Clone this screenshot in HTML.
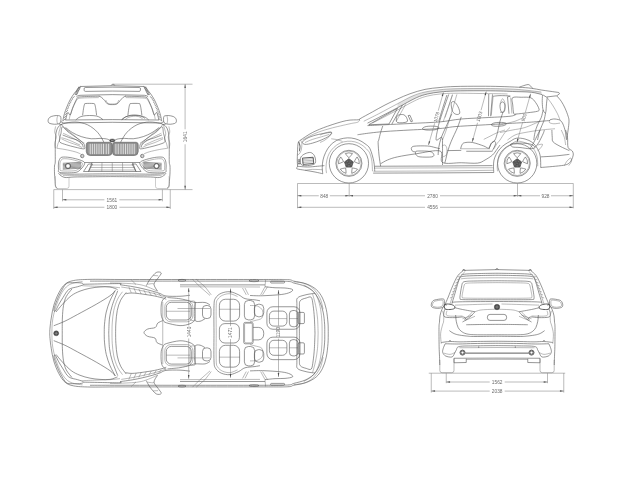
<!DOCTYPE html>
<html><head><meta charset="utf-8"><title>Car dimensions</title>
<style>
html,body{margin:0;padding:0;background:#fff;}
body{width:640px;height:480px;overflow:hidden;font-family:"Liberation Sans",sans-serif;}
svg{display:block;filter:grayscale(1) blur(0.4px)}
.l{fill:none;stroke:#505050;stroke-width:0.6;stroke-linecap:butt;stroke-linejoin:round}
.t{fill:none;stroke:#666;stroke-width:0.45;stroke-linecap:butt;stroke-linejoin:round}
.h{fill:none;stroke:#404040;stroke-width:0.85;stroke-linecap:butt;stroke-linejoin:round}
.d{fill:none;stroke:#777;stroke-width:0.5}
.f{fill:none;stroke:#909090;stroke-width:0.45}
.a{fill:#4a4a4a;stroke:none}
.k{fill:#333;stroke:none}
text{font-family:"Liberation Sans",sans-serif;font-size:4.8px;fill:#6c6c6c;text-anchor:middle}
</style></head><body>
<svg width="640" height="480" viewBox="0 0 640 480">
<rect width="640" height="480" fill="#fff"/>
<g id="front"><path class="l" d="M80.62,86.25 C80.10,86.77 78.64,88.09 77.50,89.38 C76.36,90.67 75.00,92.23 73.75,94.00 C72.50,95.77 71.14,97.85 70.00,100.00 C68.86,102.15 67.82,104.59 66.88,106.88 C65.94,109.17 65.07,111.36 64.38,113.75 C63.69,116.14 63.02,120.00 62.75,121.25"/><path class="l" d="M80.6,86.65 L76.4,95.13"/><path class="t" d="M79.25,86.35 L75.13,94.75"/><path class="l" d="M80.15,88 L77.98,87.25"/><path class="l" d="M79.48,89.35 L77.3,88.6"/><path class="l" d="M78.8,90.7 L76.63,89.95"/><path class="l" d="M78.13,92.05 L75.95,91.3"/><path class="l" d="M77.45,93.4 L75.28,92.65"/><path class="l" d="M76.78,94.75 L74.6,94"/><path class="l" d="M99.5,96.18 C98.00,96.22 93.25,96.31 90.50,96.40 C87.75,96.49 85.00,96.58 83.00,96.70 C81.00,96.83 79.53,96.83 78.50,97.15 C77.47,97.48 77.47,97.68 76.85,98.65 C76.22,99.62 75.47,101.40 74.75,103.00 C74.03,104.60 73.25,106.25 72.50,108.25 C71.75,110.25 71.04,114.29 70.25,115.00 C69.46,115.71 68.52,111.67 67.75,112.50 C66.98,113.33 65.98,118.75 65.62,120.00"/><path class="t" d="M98.75,97.62 C97.29,97.64 93.12,97.67 90.00,97.75 C86.88,97.83 82.04,97.91 80.00,98.12 C77.96,98.33 78.44,98.44 77.75,99.00 C77.06,99.56 76.67,100.08 75.88,101.50 C75.09,102.92 73.94,105.29 73.00,107.50 C72.06,109.71 70.88,112.77 70.25,114.75 C69.62,116.73 69.42,118.61 69.25,119.38"/><path class="l" d="M71.94,98.62 L74.64,96.38"/><path class="l" d="M70.26,101.38 L72.75,99.12"/><path class="l" d="M69.01,104.12 L71.38,101.88"/><path class="l" d="M67.76,106.88 L70.09,104.62"/><path class="l" d="M66.66,109.62 L69.03,107.38"/><path class="l" d="M65.66,112.38 L67.98,110.12"/><path class="l" d="M64.7,115.12 L67.08,112.88"/><path class="l" d="M64.1,117.88 L66.3,115.62"/><path class="l" d="M63.5,120.62 L65.52,118.38"/><path class="l" d="M82.62,115.25 C82.77,114.17 83.19,110.56 83.50,108.75 C83.81,106.94 84.12,105.25 84.50,104.38 C84.88,103.50 84.29,103.65 85.75,103.50 C87.21,103.35 91.75,103.35 93.25,103.50 C94.75,103.65 94.33,103.50 94.75,104.38 C95.17,105.25 95.44,106.94 95.75,108.75 C96.06,110.56 96.48,114.17 96.62,115.25"/><path class="l" d="M75.75,120 C76.27,119.58 77.63,118.17 78.88,117.50 C80.13,116.83 81.48,116.33 83.25,116.00 C85.02,115.67 87.31,115.50 89.50,115.50 C91.69,115.50 94.55,115.62 96.38,116.00 C98.21,116.38 99.40,117.12 100.50,117.75 C101.60,118.38 102.58,119.42 103.00,119.75"/><path class="l" d="M48.12,120.25 C48.22,119.56 48.48,118.75 49.00,118.12 C49.52,117.50 50.04,116.94 51.25,116.50 C52.46,116.06 54.79,115.58 56.25,115.50 C57.71,115.42 59.23,115.67 60.00,116.00 C60.77,116.33 60.76,116.52 60.88,117.50 C61.01,118.48 61.11,120.84 60.75,121.88 C60.39,122.92 59.81,123.36 58.75,123.75 C57.69,124.14 55.84,124.29 54.38,124.25 C52.92,124.21 51.00,123.83 50.00,123.50 C49.00,123.17 48.69,122.79 48.38,122.25 C48.07,121.71 48.02,120.94 48.12,120.25 Z"/><path class="t" d="M57.5,116 C57.40,116.67 56.88,118.67 56.88,120.00 C56.88,121.33 57.40,123.33 57.50,124.00"/><path class="l" d="M60.75,121.5 L63.12,123.12"/><path class="l" d="M58.75,124 L62.25,124.75"/><path class="l" d="M62.5,123.88 C61.98,124.19 60.21,125.02 59.38,125.75 C58.55,126.48 58.02,127.21 57.50,128.25 C56.98,129.29 56.56,130.54 56.25,132.00 C55.94,133.46 55.79,134.08 55.62,137.00 C55.45,139.92 55.31,145.33 55.25,149.50 C55.19,153.67 55.38,159.25 55.25,162.00 C55.12,164.75 54.62,164.17 54.50,166.00 C54.38,167.83 54.42,170.67 54.50,173.00 C54.58,175.33 54.83,177.83 55.00,180.00 C55.17,182.17 55.08,184.58 55.50,186.00 C55.92,187.42 57.17,188.08 57.50,188.50"/><path class="t" d="M61.25,124.5 C61.00,125.33 60.17,127.94 59.75,129.50 C59.33,131.06 58.71,132.32 58.75,133.88 C58.79,135.44 60.11,137.32 60.00,138.88 C59.89,140.44 58.64,141.69 58.12,143.25 C57.60,144.81 57.09,147.42 56.88,148.25"/><path class="t" d="M55.62,126.38 C55.47,127.32 54.64,130.23 54.75,132.00 C54.86,133.77 56.25,135.12 56.25,137.00 C56.25,138.88 54.92,141.38 54.75,143.25 C54.58,145.12 55.17,147.42 55.25,148.25"/><path class="l" d="M62.5,123.88 C63.54,123.65 66.67,122.81 68.75,122.50 C70.83,122.19 72.92,121.96 75.00,122.00 C77.08,122.04 79.17,122.29 81.25,122.75 C83.33,123.21 85.52,123.83 87.50,124.75 C89.48,125.67 91.45,127.00 93.12,128.25 C94.79,129.50 96.25,130.90 97.50,132.25 C98.75,133.60 99.75,135.07 100.62,136.38 C101.50,137.69 102.12,138.97 102.75,140.12 C103.38,141.27 104.11,142.73 104.38,143.25"/><path class="l" d="M62.5,126.75 C63.79,126.61 66.25,130.44 68.75,132.38 C71.25,134.32 75.04,136.53 77.50,138.38 C79.96,140.23 82.31,142.17 83.50,143.50 C84.69,144.83 84.54,145.48 84.62,146.38 C84.70,147.28 85.60,148.76 84.00,148.88 C82.40,149.00 77.96,147.81 75.00,147.12 C72.04,146.43 68.75,145.56 66.25,144.75 C63.75,143.94 61.11,143.23 60.00,142.25 C58.89,141.27 59.45,140.38 59.62,138.88 C59.79,137.38 60.52,135.27 61.00,133.25 C61.48,131.23 61.21,126.89 62.50,126.75 Z"/><path class="t" d="M63.12,133.25 C64.27,133.79 67.39,135.12 70.00,136.50 C72.61,137.88 76.71,140.12 78.75,141.50 C80.79,142.88 81.67,144.21 82.25,144.75"/><path class="t" d="M61.5,137.62 C62.71,138.02 65.67,138.77 68.75,140.00 C71.83,141.23 78.12,144.17 80.00,145.00"/><path class="t" d="M61.88,124.5 C62.40,125.23 63.86,127.63 65.00,128.88 C66.14,130.13 68.12,131.48 68.75,132.00"/><path class="l" d="M62.62,135 C63.97,135.52 68.35,137.29 70.75,138.12 C73.15,138.95 75.12,139.06 77.00,140.00 C78.88,140.94 80.96,142.50 82.00,143.75 C83.04,145.00 83.04,146.88 83.25,147.50"/><path class="t" d="M61.38,138.75 C62.73,139.38 66.90,141.46 69.50,142.50 C72.10,143.54 74.92,144.17 77.00,145.00 C79.08,145.83 81.17,147.08 82.00,147.50"/><path class="t" d="M64.5,127.5 C65.75,128.54 69.50,131.67 72.00,133.75 C74.50,135.83 77.42,138.44 79.50,140.00 C81.58,141.56 83.67,142.60 84.50,143.12"/><path class="l" d="M65.62,127.62 C66.77,128.45 69.89,131.12 72.50,132.62 C75.11,134.12 78.12,135.60 81.25,136.62 C84.38,137.64 88.12,138.46 91.25,138.75 C94.38,139.04 97.50,138.36 100.00,138.38 C102.50,138.40 104.62,138.59 106.25,138.88 C107.88,139.17 109.17,139.91 109.75,140.12"/><path class="t" d="M56.88,148.25 C58.23,148.46 61.98,148.92 65.00,149.50 C68.02,150.08 72.40,151.02 75.00,151.75 C77.60,152.48 79.68,153.53 80.62,153.88"/><path d="M88.3,142.3 L109.6,142.3 Q112,142.3 112,145 L112,152.2 Q112,155.5 108.6,155.5 L90.2,155.5 Q86.5,155.5 86.3,151.5 L86.3,144.8 Q86.3,142.3 88.3,142.3 Z" fill="#9a9a9a" stroke="#666" stroke-width="0.7"/><path d="M90.25,143.6 L90.25,154.3" stroke="#e4e4e4" stroke-width="0.9" fill="none"/><path d="M92.4,143.6 L92.4,154.3" stroke="#e4e4e4" stroke-width="0.9" fill="none"/><path d="M94.6,143.6 L94.6,154.3" stroke="#e4e4e4" stroke-width="0.9" fill="none"/><path d="M96.8,143.6 L96.8,154.3" stroke="#e4e4e4" stroke-width="0.9" fill="none"/><path d="M99,143.6 L99,154.3" stroke="#e4e4e4" stroke-width="0.9" fill="none"/><path d="M101.25,143.6 L101.25,154.3" stroke="#e4e4e4" stroke-width="0.9" fill="none"/><path d="M103.5,143.6 L103.5,154.3" stroke="#e4e4e4" stroke-width="0.9" fill="none"/><path d="M106.25,143.6 L106.25,154.3" stroke="#e4e4e4" stroke-width="0.9" fill="none"/><path d="M108.6,143.6 L108.6,154.3" stroke="#e4e4e4" stroke-width="0.9" fill="none"/><path d="M88.6,143.2 L109.4,143.2 Q111.1,143.2 111.1,145.2 L111.1,152 Q111.1,154.6 108.4,154.6 L90.4,154.6 Q87.3,154.6 87.2,151.4 L87.2,145 Q87.2,143.2 88.6,143.2 Z" fill="none" stroke="#777" stroke-width="0.5"/><path class="l" d="M59.5,159.5 C60.08,158.53 60.25,157.53 62.00,157.20 C63.75,156.87 67.00,157.03 70.00,157.50 C73.00,157.97 77.58,159.17 80.00,160.00 C82.42,160.83 83.92,161.50 84.50,162.50 C85.08,163.50 84.25,164.75 83.50,166.00 C82.75,167.25 81.42,168.92 80.00,170.00 C78.58,171.08 78.33,172.08 75.00,172.50 C71.67,172.92 62.75,173.08 60.00,172.50 C57.25,171.92 58.75,170.58 58.50,169.00 C58.25,167.42 58.33,164.58 58.50,163.00 C58.67,161.42 58.92,160.47 59.50,159.50 Z"/><path class="t" d="M61,160.5 C61.50,159.80 61.50,159.02 63.00,158.80 C64.50,158.58 67.33,158.75 70.00,159.20 C72.67,159.65 76.92,160.83 79.00,161.50 C81.08,162.17 82.08,162.45 82.50,163.20 C82.92,163.95 82.17,165.03 81.50,166.00 C80.83,166.97 79.75,168.20 78.50,169.00 C77.25,169.80 76.83,170.50 74.00,170.80 C71.17,171.10 63.83,171.18 61.50,170.80 C59.17,170.42 60.25,169.80 60.00,168.50 C59.75,167.20 59.83,164.33 60.00,163.00 C60.17,161.67 60.50,161.20 61.00,160.50 Z"/><circle class="h" cx="68" cy="166" r="2.5"/><circle class="t" cx="68" cy="166" r="1.7"/><path class="l" d="M62.8,163.3 L81.2,162.3"/><path class="l" d="M62.8,164.5 L81.2,163.5"/><path class="l" d="M62.8,165.7 L81.2,164.7"/><path class="l" d="M62.8,166.9 L81.2,165.9"/><path class="l" d="M62.8,168.1 L81.2,167.1"/><path class="l" d="M62.8,169.2 L81.2,168.2"/><circle cx="68" cy="166" r="2.3" fill="#fff" stroke="#555" stroke-width="0.7"/><circle class="l" cx="82.25" cy="156" r="1.75"/><circle class="t" cx="82.25" cy="156" r="1.1"/><path class="l" d="M88.5,164 L83.5,171.5 L88.5,171.5 L92.5,164 Z"/><path class="l" d="M84.5,162.5 L92,162.5 L112.3,162.5"/><path class="l" d="M92,162.5 L88.5,171.5 L112.3,171.5"/><path class="t" d="M91.03,165 L112.3,165"/><path class="t" d="M90.05,167.5 L112.3,167.5"/><path class="t" d="M89.08,170 L112.3,170"/><path class="t" d="M102,162.5 L101.8,171.5"/><path class="l" d="M60,173.8 C61.67,173.87 65.00,174.17 70.00,174.20 C75.00,174.23 82.95,174.07 90.00,174.00 C97.05,173.93 108.58,173.83 112.30,173.80"/><path class="t" d="M63,175.6 C65.83,175.60 71.78,175.65 80.00,175.60 C88.22,175.55 106.92,175.35 112.30,175.30"/><path class="l" d="M58.5,173 C58.75,173.33 58.92,174.25 60.00,175.00 C61.08,175.75 62.67,177.17 65.00,177.50 C67.33,177.83 69.83,177.12 74.00,177.00 C78.17,176.88 83.62,176.87 90.00,176.80 C96.38,176.73 108.58,176.63 112.30,176.60"/><path class="f" d="M55.4,176 L55.4,186.3 Q55.4,188.5 57.6,188.5 L66.8,188.5 Q69,188.5 69,186.3 L69,177.3"/><g transform="translate(224.5,0) scale(-1,1)"><path class="l" d="M80.62,86.25 C80.10,86.77 78.64,88.09 77.50,89.38 C76.36,90.67 75.00,92.23 73.75,94.00 C72.50,95.77 71.14,97.85 70.00,100.00 C68.86,102.15 67.82,104.59 66.88,106.88 C65.94,109.17 65.07,111.36 64.38,113.75 C63.69,116.14 63.02,120.00 62.75,121.25"/><path class="l" d="M80.6,86.65 L76.4,95.13"/><path class="t" d="M79.25,86.35 L75.13,94.75"/><path class="l" d="M80.15,88 L77.98,87.25"/><path class="l" d="M79.48,89.35 L77.3,88.6"/><path class="l" d="M78.8,90.7 L76.63,89.95"/><path class="l" d="M78.13,92.05 L75.95,91.3"/><path class="l" d="M77.45,93.4 L75.28,92.65"/><path class="l" d="M76.78,94.75 L74.6,94"/><path class="l" d="M99.5,96.18 C98.00,96.22 93.25,96.31 90.50,96.40 C87.75,96.49 85.00,96.58 83.00,96.70 C81.00,96.83 79.53,96.83 78.50,97.15 C77.47,97.48 77.47,97.68 76.85,98.65 C76.22,99.62 75.47,101.40 74.75,103.00 C74.03,104.60 73.25,106.25 72.50,108.25 C71.75,110.25 71.04,114.29 70.25,115.00 C69.46,115.71 68.52,111.67 67.75,112.50 C66.98,113.33 65.98,118.75 65.62,120.00"/><path class="t" d="M98.75,97.62 C97.29,97.64 93.12,97.67 90.00,97.75 C86.88,97.83 82.04,97.91 80.00,98.12 C77.96,98.33 78.44,98.44 77.75,99.00 C77.06,99.56 76.67,100.08 75.88,101.50 C75.09,102.92 73.94,105.29 73.00,107.50 C72.06,109.71 70.88,112.77 70.25,114.75 C69.62,116.73 69.42,118.61 69.25,119.38"/><path class="l" d="M71.94,98.62 L74.64,96.38"/><path class="l" d="M70.26,101.38 L72.75,99.12"/><path class="l" d="M69.01,104.12 L71.38,101.88"/><path class="l" d="M67.76,106.88 L70.09,104.62"/><path class="l" d="M66.66,109.62 L69.03,107.38"/><path class="l" d="M65.66,112.38 L67.98,110.12"/><path class="l" d="M64.7,115.12 L67.08,112.88"/><path class="l" d="M64.1,117.88 L66.3,115.62"/><path class="l" d="M63.5,120.62 L65.52,118.38"/><path class="l" d="M82.62,115.25 C82.77,114.17 83.19,110.56 83.50,108.75 C83.81,106.94 84.12,105.25 84.50,104.38 C84.88,103.50 84.29,103.65 85.75,103.50 C87.21,103.35 91.75,103.35 93.25,103.50 C94.75,103.65 94.33,103.50 94.75,104.38 C95.17,105.25 95.44,106.94 95.75,108.75 C96.06,110.56 96.48,114.17 96.62,115.25"/><path class="l" d="M75.75,120 C76.27,119.58 77.63,118.17 78.88,117.50 C80.13,116.83 81.48,116.33 83.25,116.00 C85.02,115.67 87.31,115.50 89.50,115.50 C91.69,115.50 94.55,115.62 96.38,116.00 C98.21,116.38 99.40,117.12 100.50,117.75 C101.60,118.38 102.58,119.42 103.00,119.75"/><path class="l" d="M48.12,120.25 C48.22,119.56 48.48,118.75 49.00,118.12 C49.52,117.50 50.04,116.94 51.25,116.50 C52.46,116.06 54.79,115.58 56.25,115.50 C57.71,115.42 59.23,115.67 60.00,116.00 C60.77,116.33 60.76,116.52 60.88,117.50 C61.01,118.48 61.11,120.84 60.75,121.88 C60.39,122.92 59.81,123.36 58.75,123.75 C57.69,124.14 55.84,124.29 54.38,124.25 C52.92,124.21 51.00,123.83 50.00,123.50 C49.00,123.17 48.69,122.79 48.38,122.25 C48.07,121.71 48.02,120.94 48.12,120.25 Z"/><path class="t" d="M57.5,116 C57.40,116.67 56.88,118.67 56.88,120.00 C56.88,121.33 57.40,123.33 57.50,124.00"/><path class="l" d="M60.75,121.5 L63.12,123.12"/><path class="l" d="M58.75,124 L62.25,124.75"/><path class="l" d="M62.5,123.88 C61.98,124.19 60.21,125.02 59.38,125.75 C58.55,126.48 58.02,127.21 57.50,128.25 C56.98,129.29 56.56,130.54 56.25,132.00 C55.94,133.46 55.79,134.08 55.62,137.00 C55.45,139.92 55.31,145.33 55.25,149.50 C55.19,153.67 55.38,159.25 55.25,162.00 C55.12,164.75 54.62,164.17 54.50,166.00 C54.38,167.83 54.42,170.67 54.50,173.00 C54.58,175.33 54.83,177.83 55.00,180.00 C55.17,182.17 55.08,184.58 55.50,186.00 C55.92,187.42 57.17,188.08 57.50,188.50"/><path class="t" d="M61.25,124.5 C61.00,125.33 60.17,127.94 59.75,129.50 C59.33,131.06 58.71,132.32 58.75,133.88 C58.79,135.44 60.11,137.32 60.00,138.88 C59.89,140.44 58.64,141.69 58.12,143.25 C57.60,144.81 57.09,147.42 56.88,148.25"/><path class="t" d="M55.62,126.38 C55.47,127.32 54.64,130.23 54.75,132.00 C54.86,133.77 56.25,135.12 56.25,137.00 C56.25,138.88 54.92,141.38 54.75,143.25 C54.58,145.12 55.17,147.42 55.25,148.25"/><path class="l" d="M62.5,123.88 C63.54,123.65 66.67,122.81 68.75,122.50 C70.83,122.19 72.92,121.96 75.00,122.00 C77.08,122.04 79.17,122.29 81.25,122.75 C83.33,123.21 85.52,123.83 87.50,124.75 C89.48,125.67 91.45,127.00 93.12,128.25 C94.79,129.50 96.25,130.90 97.50,132.25 C98.75,133.60 99.75,135.07 100.62,136.38 C101.50,137.69 102.12,138.97 102.75,140.12 C103.38,141.27 104.11,142.73 104.38,143.25"/><path class="l" d="M62.5,126.75 C63.79,126.61 66.25,130.44 68.75,132.38 C71.25,134.32 75.04,136.53 77.50,138.38 C79.96,140.23 82.31,142.17 83.50,143.50 C84.69,144.83 84.54,145.48 84.62,146.38 C84.70,147.28 85.60,148.76 84.00,148.88 C82.40,149.00 77.96,147.81 75.00,147.12 C72.04,146.43 68.75,145.56 66.25,144.75 C63.75,143.94 61.11,143.23 60.00,142.25 C58.89,141.27 59.45,140.38 59.62,138.88 C59.79,137.38 60.52,135.27 61.00,133.25 C61.48,131.23 61.21,126.89 62.50,126.75 Z"/><path class="t" d="M63.12,133.25 C64.27,133.79 67.39,135.12 70.00,136.50 C72.61,137.88 76.71,140.12 78.75,141.50 C80.79,142.88 81.67,144.21 82.25,144.75"/><path class="t" d="M61.5,137.62 C62.71,138.02 65.67,138.77 68.75,140.00 C71.83,141.23 78.12,144.17 80.00,145.00"/><path class="t" d="M61.88,124.5 C62.40,125.23 63.86,127.63 65.00,128.88 C66.14,130.13 68.12,131.48 68.75,132.00"/><path class="l" d="M62.62,135 C63.97,135.52 68.35,137.29 70.75,138.12 C73.15,138.95 75.12,139.06 77.00,140.00 C78.88,140.94 80.96,142.50 82.00,143.75 C83.04,145.00 83.04,146.88 83.25,147.50"/><path class="t" d="M61.38,138.75 C62.73,139.38 66.90,141.46 69.50,142.50 C72.10,143.54 74.92,144.17 77.00,145.00 C79.08,145.83 81.17,147.08 82.00,147.50"/><path class="t" d="M64.5,127.5 C65.75,128.54 69.50,131.67 72.00,133.75 C74.50,135.83 77.42,138.44 79.50,140.00 C81.58,141.56 83.67,142.60 84.50,143.12"/><path class="l" d="M65.62,127.62 C66.77,128.45 69.89,131.12 72.50,132.62 C75.11,134.12 78.12,135.60 81.25,136.62 C84.38,137.64 88.12,138.46 91.25,138.75 C94.38,139.04 97.50,138.36 100.00,138.38 C102.50,138.40 104.62,138.59 106.25,138.88 C107.88,139.17 109.17,139.91 109.75,140.12"/><path class="t" d="M56.88,148.25 C58.23,148.46 61.98,148.92 65.00,149.50 C68.02,150.08 72.40,151.02 75.00,151.75 C77.60,152.48 79.68,153.53 80.62,153.88"/><path d="M88.3,142.3 L109.6,142.3 Q112,142.3 112,145 L112,152.2 Q112,155.5 108.6,155.5 L90.2,155.5 Q86.5,155.5 86.3,151.5 L86.3,144.8 Q86.3,142.3 88.3,142.3 Z" fill="#9a9a9a" stroke="#666" stroke-width="0.7"/><path d="M90.25,143.6 L90.25,154.3" stroke="#e4e4e4" stroke-width="0.9" fill="none"/><path d="M92.4,143.6 L92.4,154.3" stroke="#e4e4e4" stroke-width="0.9" fill="none"/><path d="M94.6,143.6 L94.6,154.3" stroke="#e4e4e4" stroke-width="0.9" fill="none"/><path d="M96.8,143.6 L96.8,154.3" stroke="#e4e4e4" stroke-width="0.9" fill="none"/><path d="M99,143.6 L99,154.3" stroke="#e4e4e4" stroke-width="0.9" fill="none"/><path d="M101.25,143.6 L101.25,154.3" stroke="#e4e4e4" stroke-width="0.9" fill="none"/><path d="M103.5,143.6 L103.5,154.3" stroke="#e4e4e4" stroke-width="0.9" fill="none"/><path d="M106.25,143.6 L106.25,154.3" stroke="#e4e4e4" stroke-width="0.9" fill="none"/><path d="M108.6,143.6 L108.6,154.3" stroke="#e4e4e4" stroke-width="0.9" fill="none"/><path d="M88.6,143.2 L109.4,143.2 Q111.1,143.2 111.1,145.2 L111.1,152 Q111.1,154.6 108.4,154.6 L90.4,154.6 Q87.3,154.6 87.2,151.4 L87.2,145 Q87.2,143.2 88.6,143.2 Z" fill="none" stroke="#777" stroke-width="0.5"/><path class="l" d="M59.5,159.5 C60.08,158.53 60.25,157.53 62.00,157.20 C63.75,156.87 67.00,157.03 70.00,157.50 C73.00,157.97 77.58,159.17 80.00,160.00 C82.42,160.83 83.92,161.50 84.50,162.50 C85.08,163.50 84.25,164.75 83.50,166.00 C82.75,167.25 81.42,168.92 80.00,170.00 C78.58,171.08 78.33,172.08 75.00,172.50 C71.67,172.92 62.75,173.08 60.00,172.50 C57.25,171.92 58.75,170.58 58.50,169.00 C58.25,167.42 58.33,164.58 58.50,163.00 C58.67,161.42 58.92,160.47 59.50,159.50 Z"/><path class="t" d="M61,160.5 C61.50,159.80 61.50,159.02 63.00,158.80 C64.50,158.58 67.33,158.75 70.00,159.20 C72.67,159.65 76.92,160.83 79.00,161.50 C81.08,162.17 82.08,162.45 82.50,163.20 C82.92,163.95 82.17,165.03 81.50,166.00 C80.83,166.97 79.75,168.20 78.50,169.00 C77.25,169.80 76.83,170.50 74.00,170.80 C71.17,171.10 63.83,171.18 61.50,170.80 C59.17,170.42 60.25,169.80 60.00,168.50 C59.75,167.20 59.83,164.33 60.00,163.00 C60.17,161.67 60.50,161.20 61.00,160.50 Z"/><circle class="h" cx="68" cy="166" r="2.5"/><circle class="t" cx="68" cy="166" r="1.7"/><path class="l" d="M62.8,163.3 L81.2,162.3"/><path class="l" d="M62.8,164.5 L81.2,163.5"/><path class="l" d="M62.8,165.7 L81.2,164.7"/><path class="l" d="M62.8,166.9 L81.2,165.9"/><path class="l" d="M62.8,168.1 L81.2,167.1"/><path class="l" d="M62.8,169.2 L81.2,168.2"/><circle cx="68" cy="166" r="2.3" fill="#fff" stroke="#555" stroke-width="0.7"/><circle class="l" cx="82.25" cy="156" r="1.75"/><circle class="t" cx="82.25" cy="156" r="1.1"/><path class="l" d="M88.5,164 L83.5,171.5 L88.5,171.5 L92.5,164 Z"/><path class="l" d="M84.5,162.5 L92,162.5 L112.3,162.5"/><path class="l" d="M92,162.5 L88.5,171.5 L112.3,171.5"/><path class="t" d="M91.03,165 L112.3,165"/><path class="t" d="M90.05,167.5 L112.3,167.5"/><path class="t" d="M89.08,170 L112.3,170"/><path class="t" d="M102,162.5 L101.8,171.5"/><path class="l" d="M60,173.8 C61.67,173.87 65.00,174.17 70.00,174.20 C75.00,174.23 82.95,174.07 90.00,174.00 C97.05,173.93 108.58,173.83 112.30,173.80"/><path class="t" d="M63,175.6 C65.83,175.60 71.78,175.65 80.00,175.60 C88.22,175.55 106.92,175.35 112.30,175.30"/><path class="l" d="M58.5,173 C58.75,173.33 58.92,174.25 60.00,175.00 C61.08,175.75 62.67,177.17 65.00,177.50 C67.33,177.83 69.83,177.12 74.00,177.00 C78.17,176.88 83.62,176.87 90.00,176.80 C96.38,176.73 108.58,176.63 112.30,176.60"/><path class="f" d="M55.4,176 L55.4,186.3 Q55.4,188.5 57.6,188.5 L66.8,188.5 Q69,188.5 69,186.3 L69,177.3"/></g><path class="l" d="M80.4,86.5 Q112.25,84.9 144.1,86.5"/><path class="l" d="M85.2,87.5 Q112.25,86.8 139.3,87.5 Q140.6,87.6 140.5,89 L140.4,90.4 Q140.3,91.4 139,91.4 Q112.25,90.7 85.5,91.4 Q84.3,91.4 84.2,90.4 L84.1,89 Q84,87.6 85.2,87.5 Z"/><path class="l" d="M111.2,85.4 L112,84.3 L114,84.3 L114.6,85.4"/><path class="l" d="M76.4,96.8 Q77.5,95.5 80,95.3 Q112.25,93.9 144.5,95.3 Q147,95.5 148.1,96.8"/><path class="l" d="M98.88,96.12 C99.30,96.31 100.40,96.50 101.38,97.25 C102.36,98.00 103.71,99.50 104.75,100.62 C105.79,101.75 106.37,103.33 107.62,104.00 C108.87,104.67 110.69,104.62 112.25,104.62 C113.81,104.62 115.69,104.67 117.00,104.00 C118.31,103.33 119.08,101.75 120.12,100.62 C121.16,99.50 122.31,98.00 123.25,97.25 C124.19,96.50 125.33,96.31 125.75,96.12"/><path class="t" d="M105.75,100 C105.96,100.42 106.48,101.88 107.00,102.50 C107.52,103.12 108.00,103.50 108.88,103.75 C109.75,104.00 111.11,104.00 112.25,104.00 C113.39,104.00 114.86,104.00 115.75,103.75 C116.64,103.50 117.10,103.12 117.62,102.50 C118.14,101.88 118.67,100.42 118.88,100.00"/><path class="l" d="M122,119.75 C122.62,119.27 124.29,117.63 125.75,116.88 C127.21,116.13 129.08,115.56 130.75,115.25 C132.42,114.94 134.08,114.88 135.75,115.00 C137.42,115.12 139.19,115.42 140.75,116.00 C142.31,116.58 144.39,118.08 145.12,118.50"/><path class="t" d="M125.12,119.75 C125.64,119.38 126.89,118.08 128.25,117.50 C129.60,116.92 131.58,116.42 133.25,116.25 C134.92,116.08 136.69,116.08 138.25,116.50 C139.81,116.92 141.89,118.38 142.62,118.75"/><path class="l" d="M65.3,120 Q112.25,119.2 159.2,120"/><path class="l" d="M62.6,123 Q112.25,121.6 161.9,123"/><ellipse cx="112.25" cy="140.45" rx="2.75" ry="1.55" fill="#444" stroke="#555" stroke-width="0.4"/><ellipse cx="112.25" cy="140.45" rx="1.5" ry="0.7" fill="#8a8a8a"/><path class="t" d="M112.25,162.5 L112.25,171.5"/></g>
<g id="side"><circle class="l" cx="348.9" cy="163.35" r="19.65"/><circle class="l" cx="348.9" cy="163.35" r="13.05"/><circle class="t" cx="348.9" cy="163.35" r="12.2"/><polygon points="348.90,158.75 353.27,161.93 351.60,167.07 346.20,167.07 344.53,161.93" fill="#5a5a5a" stroke="#4a4a4a" stroke-width="0.8" stroke-linejoin="round"/><circle class="k" cx="348.9" cy="163.35" r="1.5"/><path class="l" d="M348.90,157.75 Q346.39,155.23 345.33,153.58 Q348.90,152.05 352.47,153.58 Q351.41,155.23 348.90,157.75 Z"/><path class="f" d="M348.9,163.35 L351.016,160.438"/><path class="l" d="M354.23,161.62 Q355.85,158.45 357.09,156.94 Q359.65,159.86 359.29,163.72 Q357.40,163.23 354.23,161.62 Z"/><path class="f" d="M348.9,163.35 L352.324,164.462"/><path class="l" d="M352.19,167.88 Q355.71,168.44 357.53,169.16 Q355.54,172.49 351.76,173.35 Q351.64,171.40 352.19,167.88 Z"/><path class="f" d="M348.9,163.35 L348.9,166.95"/><path class="l" d="M345.61,167.88 Q346.16,171.40 346.04,173.35 Q342.26,172.49 340.27,169.16 Q342.09,168.44 345.61,167.88 Z"/><path class="f" d="M348.9,163.35 L345.476,164.462"/><path class="l" d="M343.57,161.62 Q340.40,163.23 338.51,163.72 Q338.15,159.86 340.71,156.94 Q341.95,158.45 343.57,161.62 Z"/><path class="f" d="M348.9,163.35 L346.784,160.438"/><circle class="l" cx="517.2" cy="163.35" r="19.65"/><circle class="l" cx="517.2" cy="163.35" r="13.05"/><circle class="t" cx="517.2" cy="163.35" r="12.2"/><polygon points="517.20,158.75 521.57,161.93 519.90,167.07 514.50,167.07 512.83,161.93" fill="#5a5a5a" stroke="#4a4a4a" stroke-width="0.8" stroke-linejoin="round"/><circle class="k" cx="517.2" cy="163.35" r="1.5"/><path class="l" d="M517.20,157.75 Q514.69,155.23 513.63,153.58 Q517.20,152.05 520.77,153.58 Q519.71,155.23 517.20,157.75 Z"/><path class="f" d="M517.2,163.35 L519.316,160.438"/><path class="l" d="M522.53,161.62 Q524.15,158.45 525.39,156.94 Q527.95,159.86 527.59,163.72 Q525.70,163.23 522.53,161.62 Z"/><path class="f" d="M517.2,163.35 L520.624,164.462"/><path class="l" d="M520.49,167.88 Q524.01,168.44 525.83,169.16 Q523.84,172.49 520.06,173.35 Q519.94,171.40 520.49,167.88 Z"/><path class="f" d="M517.2,163.35 L517.2,166.95"/><path class="l" d="M513.91,167.88 Q514.46,171.40 514.34,173.35 Q510.56,172.49 508.57,169.16 Q510.39,168.44 513.91,167.88 Z"/><path class="f" d="M517.2,163.35 L513.776,164.462"/><path class="l" d="M511.87,161.62 Q508.70,163.23 506.81,163.72 Q506.45,159.86 509.01,156.94 Q510.25,158.45 511.87,161.62 Z"/><path class="f" d="M517.2,163.35 L515.084,160.438"/><path class="l" d="M300.62,140 C302.60,138.75 308.02,134.79 312.50,132.50 C316.98,130.21 321.88,128.23 327.50,126.25 C333.12,124.27 341.04,121.70 346.25,120.62 C351.46,119.54 356.46,120.06 358.75,119.75 C361.04,119.44 357.71,120.06 360.00,118.75 C362.29,117.44 368.33,114.17 372.50,111.88 C376.67,109.59 380.83,107.15 385.00,105.00 C389.17,102.85 393.33,100.88 397.50,99.00 C401.67,97.12 405.42,95.35 410.00,93.75 C414.58,92.15 420.00,90.42 425.00,89.38 C430.00,88.34 435.00,87.98 440.00,87.50 C445.00,87.02 448.33,86.71 455.00,86.50 C461.67,86.29 472.50,86.25 480.00,86.25 C487.50,86.25 493.54,86.33 500.00,86.50 C506.46,86.67 513.54,86.96 518.75,87.25 C523.96,87.54 527.50,87.79 531.25,88.25 C535.00,88.71 538.12,89.50 541.25,90.00 C544.38,90.50 547.08,90.83 550.00,91.25 C552.92,91.67 557.29,92.29 558.75,92.50"/><path class="t" d="M302.5,140 C304.58,138.92 310.42,135.42 315.00,133.50 C319.58,131.58 324.17,130.12 330.00,128.50 C335.83,126.88 345.42,124.79 350.00,123.75 C354.58,122.71 355.83,122.88 357.50,122.25 C359.17,121.62 359.58,120.38 360.00,120.00"/><path d="M397.5,103.75 L412.5,96 L425,92 L440,89.75 L455,88.75 L480,88.5 L500,88.75 L518.75,89.5 L541.25,92 L542.5,94.75 L531.25,92.25 L512.5,91.5 L500,91 L480,90.75 L455,91 L440,92 L427.5,94 L416.25,97.75 L397.5,107.75 Z" fill="#e2e2e2" stroke="none"/><path class="l" d="M367.5,123.12 C369.38,122.18 373.75,120.06 378.75,117.50 C383.75,114.94 391.25,111.04 397.50,107.75 C403.75,104.46 411.25,100.04 416.25,97.75 C421.25,95.46 423.54,94.96 427.50,94.00 C431.46,93.04 435.42,92.50 440.00,92.00 C444.58,91.50 448.33,91.21 455.00,91.00 C461.67,90.79 472.50,90.75 480.00,90.75 C487.50,90.75 494.58,90.88 500.00,91.00 C505.42,91.12 507.29,91.29 512.50,91.50 C517.71,91.71 526.25,91.71 531.25,92.25 C536.25,92.79 540.62,94.33 542.50,94.75"/><path class="t" d="M363.75,121.25 C366.25,120.00 373.12,116.67 378.75,113.75 C384.38,110.83 391.88,106.71 397.50,103.75 C403.12,100.79 407.92,97.96 412.50,96.00 C417.08,94.04 420.42,93.04 425.00,92.00 C429.58,90.96 435.00,90.29 440.00,89.75 C445.00,89.21 448.33,88.96 455.00,88.75 C461.67,88.54 472.50,88.50 480.00,88.50 C487.50,88.50 493.54,88.58 500.00,88.75 C506.46,88.92 511.88,88.96 518.75,89.50 C525.62,90.04 537.50,91.58 541.25,92.00"/><path class="t" d="M372.5,123.12 C376.67,120.93 390.21,113.85 397.50,110.00 C404.79,106.15 411.25,102.33 416.25,100.00 C421.25,97.67 423.54,97.00 427.50,96.00 C431.46,95.00 435.42,94.46 440.00,94.00 C444.58,93.54 448.33,93.33 455.00,93.25 C461.67,93.17 472.50,93.42 480.00,93.50 C487.50,93.58 495.42,93.67 500.00,93.75 C504.58,93.83 506.25,93.96 507.50,94.00"/><path class="l" d="M558.75,92.5 L559.5,93.75 L556.88,95.75 L546.25,97 L543.12,95"/><path class="l" d="M519.38,87.12 C520.11,86.87 522.29,86.06 523.75,85.62 C525.21,85.18 527.08,84.50 528.12,84.50 C529.16,84.50 529.23,85.00 530.00,85.62 C530.77,86.25 532.29,87.81 532.75,88.25"/><path class="l" d="M556.88,96 C557.61,96.88 559.90,99.23 561.25,101.25 C562.60,103.27 563.86,105.62 565.00,108.12 C566.14,110.62 567.45,114.06 568.12,116.25 C568.79,118.44 569.00,118.96 569.00,121.25 C569.00,123.54 568.54,126.88 568.12,130.00 C567.70,133.12 566.77,138.33 566.50,140.00"/><path class="t" d="M546.88,97.25 C547.82,98.54 550.73,102.25 552.50,105.00 C554.27,107.75 556.25,111.25 557.50,113.75 C558.75,116.25 559.58,118.96 560.00,120.00"/><path class="l" d="M565.62,130 C565.93,131.25 567.08,134.58 567.50,137.50 C567.92,140.42 567.33,145.25 568.12,147.50 C568.91,149.75 571.39,149.75 572.25,151.00 C573.11,152.25 573.38,153.50 573.25,155.00 C573.12,156.50 572.25,158.58 571.50,160.00 C570.75,161.42 570.04,162.62 568.75,163.50 C567.46,164.38 566.46,164.75 563.75,165.25 C561.04,165.75 556.36,166.12 552.50,166.50 C548.64,166.88 542.60,167.33 540.62,167.50"/><path class="l" d="M551.88,130 C551.94,131.25 552.04,135.52 552.25,137.50 C552.46,139.48 551.83,140.42 553.12,141.88 C554.41,143.34 557.29,144.79 560.00,146.25 C562.71,147.71 567.82,149.89 569.38,150.62"/><path class="l" d="M540.62,156.88 C543.02,156.73 550.21,156.42 555.00,156.00 C559.79,155.58 566.98,154.65 569.38,154.38"/><path class="t" d="M561.25,130 C561.77,131.25 563.65,135.00 564.38,137.50 C565.11,140.00 565.41,143.75 565.62,145.00"/><path class="t" d="M564.38,165.62 C564.80,164.89 565.84,162.50 566.88,161.25 C567.92,160.00 569.85,158.12 570.62,158.12 C571.39,158.12 571.81,160.00 571.50,161.25 C571.19,162.50 569.21,164.89 568.75,165.62"/><path class="l" d="M550,119.75 C550.83,119.62 553.12,118.75 555.00,119.00 C556.88,119.25 559.58,119.42 561.25,121.25 C562.92,123.08 564.17,127.08 565.00,130.00 C565.83,132.92 566.04,137.29 566.25,138.75"/><path class="t" d="M550,119.75 C549.90,120.21 548.75,121.83 549.38,122.50 C550.00,123.17 551.98,123.65 553.75,123.75 C555.52,123.85 558.96,123.23 560.00,123.12"/><path class="l" d="M512.5,97.75 C513.92,96.46 518.23,97.25 521.25,97.25 C524.27,97.25 528.23,96.88 530.62,97.75 C533.01,98.62 534.22,100.62 535.62,102.50 C537.02,104.38 538.69,107.54 539.00,109.00 C539.31,110.46 539.42,110.62 537.50,111.25 C535.58,111.88 531.04,112.29 527.50,112.75 C523.96,113.21 518.54,113.88 516.25,114.00 C513.96,114.12 514.33,115.00 513.75,113.50 C513.17,112.00 512.96,107.62 512.75,105.00 C512.54,102.38 511.08,99.04 512.50,97.75 Z"/><path class="l" d="M542.5,95 C542.46,96.25 542.15,100.00 542.25,102.50 C542.35,105.00 542.56,108.29 543.12,110.00 C543.68,111.71 545.06,113.79 545.62,112.75 C546.18,111.71 546.23,106.29 546.50,103.75 C546.77,101.21 547.12,98.54 547.25,97.50"/><path class="l" d="M543.12,110 C542.81,111.25 542.19,115.00 541.25,117.50 C540.31,120.00 538.54,122.50 537.50,125.00 C536.46,127.50 535.62,130.00 535.00,132.50 C534.38,135.00 533.96,138.75 533.75,140.00"/><path class="l" d="M545.62,112.75 C545.31,114.17 544.69,118.38 543.75,121.25 C542.81,124.12 541.04,126.88 540.00,130.00 C538.96,133.12 537.92,138.33 537.50,140.00"/><path class="l" d="M493.75,172.5 C493.71,171.46 493.46,168.33 493.50,166.25 C493.54,164.17 493.54,161.98 494.00,160.00 C494.46,158.02 495.25,156.25 496.25,154.38 C497.25,152.50 498.54,150.42 500.00,148.75 C501.46,147.08 503.33,145.59 505.00,144.38 C506.67,143.17 508.12,142.52 510.00,141.50 C511.88,140.48 513.75,138.67 516.25,138.25 C518.75,137.83 522.29,138.29 525.00,139.00 C527.71,139.71 530.42,140.88 532.50,142.50 C534.58,144.12 536.21,146.46 537.50,148.75 C538.79,151.04 539.71,153.12 540.25,156.25 C540.79,159.38 540.67,165.62 540.75,167.50"/><path class="t" d="M497.5,171.25 C497.46,170.42 497.15,168.12 497.25,166.25 C497.35,164.38 497.56,161.98 498.12,160.00 C498.68,158.02 499.47,156.25 500.62,154.38 C501.77,152.50 503.44,150.27 505.00,148.75 C506.56,147.23 508.12,146.50 510.00,145.25 C511.88,144.00 513.96,141.75 516.25,141.25 C518.54,140.75 521.46,141.62 523.75,142.25 C526.04,142.88 528.17,143.60 530.00,145.00 C531.83,146.40 533.54,148.54 534.75,150.62 C535.96,152.70 536.75,154.90 537.25,157.50 C537.75,160.10 537.67,164.79 537.75,166.25"/><path class="l" d="M322.75,173.75 C322.67,172.71 322.21,169.79 322.25,167.50 C322.29,165.21 322.44,162.50 323.00,160.00 C323.56,157.50 324.45,154.90 325.62,152.50 C326.79,150.10 328.23,147.60 330.00,145.62 C331.77,143.64 333.96,141.85 336.25,140.62 C338.54,139.39 341.25,138.69 343.75,138.25 C346.25,137.81 348.75,137.71 351.25,138.00 C353.75,138.29 356.46,139.04 358.75,140.00 C361.04,140.96 363.12,142.29 365.00,143.75 C366.88,145.21 368.54,145.83 370.00,148.75 C371.46,151.67 372.96,157.50 373.75,161.25 C374.54,165.00 374.58,169.58 374.75,171.25"/><path class="t" d="M326.5,173.12 C326.42,172.18 325.94,169.69 326.00,167.50 C326.06,165.31 326.32,162.40 326.88,160.00 C327.44,157.60 328.24,155.20 329.38,153.12 C330.52,151.04 331.98,149.17 333.75,147.50 C335.52,145.83 337.71,144.16 340.00,143.12 C342.29,142.08 345.00,141.46 347.50,141.25 C350.00,141.04 352.60,141.25 355.00,141.88 C357.40,142.50 359.80,143.65 361.88,145.00 C363.96,146.35 366.15,148.54 367.50,150.00 C368.85,151.46 369.27,151.88 370.00,153.75 C370.73,155.62 371.46,158.33 371.88,161.25 C372.30,164.17 372.40,169.58 372.50,171.25"/><path class="l" d="M300.62,140 C300.27,140.31 298.98,140.84 298.50,141.88 C298.02,142.92 297.92,144.48 297.75,146.25 C297.58,148.02 297.58,150.21 297.50,152.50 C297.42,154.79 297.25,157.71 297.25,160.00 C297.25,162.29 297.58,164.96 297.50,166.25 C297.42,167.54 296.75,167.29 296.75,167.75 C296.75,168.21 296.12,168.58 297.50,169.00 C298.88,169.42 302.08,169.75 305.00,170.25 C307.92,170.75 312.04,171.42 315.00,172.00 C317.96,172.58 321.46,173.46 322.75,173.75"/><path class="t" d="M300.62,140 C300.83,140.62 301.77,142.08 301.88,143.75 C301.99,145.42 301.67,148.33 301.25,150.00 C300.83,151.67 300.00,152.92 299.38,153.75 C298.75,154.58 297.81,154.79 297.50,155.00"/><path class="h" d="M298.75,141.88 C298.96,142.61 299.89,144.69 300.00,146.25 C300.11,147.81 299.48,150.42 299.38,151.25"/><path class="l" d="M297.5,166.25 C299.17,166.38 304.17,167.00 307.50,167.00 C310.83,167.00 314.69,166.48 317.50,166.25 C320.31,166.02 323.23,165.72 324.38,165.62"/><path class="t" d="M305,170.25 C306.25,170.10 309.54,169.46 312.50,169.38 C315.46,169.30 321.04,169.69 322.75,169.75"/><path class="l" d="M301,156.88 C301.83,155.63 303.40,154.48 305.00,153.75 C306.60,153.02 309.06,152.19 310.62,152.50 C312.18,152.81 313.55,154.27 314.38,155.62 C315.21,156.97 315.62,159.22 315.62,160.62 C315.62,162.02 315.73,163.17 314.38,164.00 C313.03,164.83 309.58,165.45 307.50,165.62 C305.42,165.79 303.13,165.73 301.88,165.00 C300.63,164.27 300.15,162.60 300.00,161.25 C299.85,159.90 300.17,158.13 301.00,156.88 Z"/><path class="h" d="M302.5,158.12 L313.12,157.25 L313.75,163.5 L303.12,164.38 Z"/><path class="t" d="M302.5,159.38 L313.75,158.62"/><path class="t" d="M302.5,161 L313.75,160.25"/><path class="t" d="M302.5,162.5 L313.75,161.75"/><path class="h" d="M297.75,160 L300.62,160"/><path class="h" d="M297.75,161.88 L300.62,161.88"/><path class="h" d="M297.75,163.75 L300.62,163.75"/><path class="l" d="M302.5,141.88 C303.12,140.73 306.04,138.75 308.75,137.50 C311.46,136.25 315.00,135.21 318.75,134.38 C322.50,133.55 329.58,132.19 331.25,132.50 C332.92,132.81 330.42,135.00 328.75,136.25 C327.08,137.50 323.96,138.85 321.25,140.00 C318.54,141.15 315.21,142.39 312.50,143.12 C309.79,143.85 306.67,144.59 305.00,144.38 C303.33,144.17 301.88,143.03 302.50,141.88 Z"/><path class="t" d="M305,142.5 C306.25,141.98 309.79,140.32 312.50,139.38 C315.21,138.44 318.44,137.71 321.25,136.88 C324.06,136.05 328.02,134.80 329.38,134.38"/><path class="l" d="M357.5,134.75 C359.58,134.46 365.42,133.54 370.00,133.00 C374.58,132.46 378.33,132.00 385.00,131.50 C391.67,131.00 400.83,130.50 410.00,130.00 C419.17,129.50 432.50,129.06 440.00,128.50 C447.50,127.94 448.33,127.18 455.00,126.62 C461.67,126.06 472.50,125.56 480.00,125.12 C487.50,124.68 494.58,124.31 500.00,124.00 C505.42,123.69 507.29,123.56 512.50,123.25 C517.71,122.94 525.00,122.58 531.25,122.12 C537.50,121.66 546.88,120.77 550.00,120.50"/><path class="t" d="M320,135 C321.04,134.62 324.38,133.27 326.25,132.75 C328.12,132.23 330.62,131.40 331.25,131.88 C331.88,132.36 331.04,134.27 330.00,135.62 C328.96,136.97 326.67,138.85 325.00,140.00 C323.33,141.15 320.83,142.08 320.00,142.50"/><path class="t" d="M331.25,138.75 C332.29,138.92 335.62,139.29 337.50,139.75 C339.38,140.21 341.67,141.21 342.50,141.50"/><path class="l" d="M367.5,125.62 C370.42,125.48 377.92,125.10 385.00,124.75 C392.08,124.40 400.83,123.98 410.00,123.50 C419.17,123.02 431.46,122.63 440.00,121.88 C448.54,121.13 453.12,119.73 461.25,119.00 C469.38,118.27 480.62,117.96 488.75,117.50 C496.88,117.04 505.42,116.77 510.00,116.25 C514.58,115.73 515.21,114.69 516.25,114.38"/><path class="l" d="M368.75,124.75 L397.5,108.25 L389,124 Z"/><path class="l" d="M402.5,105 L391.88,124"/><path class="t" d="M405.62,104.38 L396.25,121.25"/><path class="l" d="M396.5,117.5 C396.71,116.25 397.54,115.46 398.75,115.00 C399.96,114.54 402.46,114.33 403.75,114.75 C405.04,115.17 405.98,116.31 406.50,117.50 C407.02,118.69 408.38,121.05 406.88,121.88 C405.38,122.71 399.23,123.23 397.50,122.50 C395.77,121.77 396.29,118.75 396.50,117.50 Z"/><path class="l" d="M408.12,115.62 L410,115.25 L412.5,121.25 L411,121.88 Z"/><path class="l" d="M382.75,126 C382.39,127.08 381.29,130.17 380.62,132.50 C379.95,134.83 379.17,138.33 378.75,140.00 C378.33,141.67 378.08,140.00 378.12,142.50 C378.16,145.00 378.58,151.04 379.00,155.00 C379.42,158.96 380.35,164.38 380.62,166.25"/><path class="l" d="M448.75,94.38 C448.12,96.15 446.46,100.73 445.00,105.00 C443.54,109.27 441.25,115.83 440.00,120.00 C438.75,124.17 438.12,126.67 437.50,130.00 C436.88,133.33 435.52,138.75 436.25,140.00 C436.98,141.25 440.84,136.46 441.88,137.50 C442.92,138.54 442.40,141.67 442.50,146.25 C442.60,150.83 442.50,161.88 442.50,165.00"/><path class="t" d="M456.88,94.38 C456.36,96.15 454.90,101.15 453.75,105.00 C452.60,108.85 451.25,113.33 450.00,117.50 C448.75,121.67 447.50,126.25 446.25,130.00 C445.00,133.75 443.12,138.33 442.50,140.00"/><path class="t" d="M452.5,94.38 C451.88,96.36 450.00,102.40 448.75,106.25 C447.50,110.10 445.62,115.62 445.00,117.50"/><path class="l" d="M446.88,95 C446.15,97.29 443.86,104.38 442.50,108.75 C441.14,113.12 439.38,119.17 438.75,121.25"/><path class="t" d="M452.5,95 C451.71,97.29 449.31,104.27 447.75,108.75 C446.19,113.23 443.89,119.69 443.12,121.88"/><path class="l" d="M488.75,94 L488.5,116.25"/><path class="l" d="M492.5,94.38 L490.62,116.25"/><path class="l" d="M493.12,96.25 C494.27,96.14 497.19,95.66 500.00,95.62 C502.81,95.58 508.75,95.79 510.00,96.00 C511.25,96.21 507.92,96.73 507.50,96.88"/><path class="t" d="M493.12,96.25 L491.25,115.62"/><path class="l" d="M507.5,96.88 L509,113.75"/><path class="t" d="M510.62,97.5 L511.88,113.5"/><path class="l" d="M422.5,128.5 C422.50,127.92 424.17,126.88 426.25,126.50 C428.33,126.12 432.88,126.04 435.00,126.25 C437.12,126.46 439.00,127.17 439.00,127.75 C439.00,128.33 437.12,129.38 435.00,129.75 C432.88,130.12 428.33,130.21 426.25,130.00 C424.17,129.79 422.50,129.08 422.50,128.50 Z"/><path class="l" d="M491.25,124.75 C491.25,124.17 493.02,123.12 495.00,122.75 C496.98,122.38 501.20,122.33 503.12,122.50 C505.04,122.67 506.50,123.21 506.50,123.75 C506.50,124.29 505.04,125.33 503.12,125.75 C501.20,126.17 496.98,126.42 495.00,126.25 C493.02,126.08 491.25,125.33 491.25,124.75 Z"/><path class="l" d="M374.75,166.25 L440,166 L492.5,165.62"/><path class="l" d="M373.12,173.12 L440,172.88 L493.75,172.5"/><path class="t" d="M374,168.12 L440,167.88 L493.12,167.75"/><path class="t" d="M373.5,171.25 L440,171 L493.5,170.25"/><path class="l" d="M380.62,163.75 C381.77,163.12 384.69,161.15 387.50,160.00 C390.31,158.85 392.71,157.92 397.50,156.88 C402.29,155.84 409.17,154.73 416.25,153.75 C423.33,152.77 435.62,149.54 440.00,151.00 C444.38,152.46 438.96,160.54 442.50,162.50 C446.04,164.46 455.42,162.65 461.25,162.75 C467.08,162.85 473.54,163.58 477.50,163.12 C481.46,162.66 482.50,161.35 485.00,160.00 C487.50,158.65 490.52,156.77 492.50,155.00 C494.48,153.23 495.63,151.05 496.88,149.38 C498.13,147.71 499.48,145.73 500.00,145.00"/><path class="l" d="M411.25,148.75 C411.67,148.33 411.04,146.71 413.75,146.25 C416.46,145.79 423.96,145.79 427.50,146.00 C431.04,146.21 432.92,147.04 435.00,147.50 C437.08,147.96 439.17,148.54 440.00,148.75"/><path class="l" d="M415.62,151.88 C416.04,151.21 416.35,151.06 418.75,151.00 C421.15,150.94 427.50,150.94 430.00,151.50 C432.50,152.06 433.44,153.48 433.75,154.38 C434.06,155.28 434.17,156.46 431.88,156.88 C429.59,157.30 422.61,157.19 420.00,156.88 C417.39,156.57 416.98,155.83 416.25,155.00 C415.52,154.17 415.20,152.55 415.62,151.88 Z"/><path class="l" d="M411.25,148.75 C411.46,149.17 411.77,150.73 412.50,151.25 C413.23,151.77 415.10,151.78 415.62,151.88"/><path class="l" d="M451.25,103.12 C451.56,101.56 453.24,101.25 454.38,101.88 C455.52,102.51 457.23,105.01 458.12,106.88 C459.01,108.75 460.06,111.87 459.75,113.12 C459.44,114.37 457.46,114.69 456.25,114.38 C455.04,114.07 453.33,113.13 452.50,111.25 C451.67,109.37 450.94,104.68 451.25,103.12 Z"/><path class="l" d="M451.88,113.75 C450.94,115.83 448.02,122.29 446.25,126.25 C444.48,130.21 442.50,133.96 441.25,137.50 C440.00,141.04 439.27,144.58 438.75,147.50 C438.23,150.42 438.23,153.75 438.12,155.00"/><path class="l" d="M461.25,116.88 C460.62,118.65 459.17,123.44 457.50,127.50 C455.83,131.56 452.88,137.29 451.25,141.25 C449.62,145.21 448.69,148.12 447.75,151.25 C446.81,154.38 446.12,158.02 445.62,160.00 C445.12,161.98 444.89,162.60 444.75,163.12"/><path class="t" d="M441.88,146.25 C442.40,146.04 444.17,144.58 445.00,145.00 C445.83,145.42 446.67,147.08 446.88,148.75 C447.09,150.42 446.98,153.65 446.25,155.00 C445.52,156.35 443.12,156.57 442.50,156.88"/><path class="l" d="M460.62,148.75 C460.83,148.12 461.25,146.00 461.88,145.00 C462.51,144.00 462.61,143.17 464.38,142.75 C466.15,142.33 469.27,141.96 472.50,142.50 C475.73,143.04 481.04,145.06 483.75,146.00 C486.46,146.94 487.50,148.60 488.75,148.12 C490.00,147.64 490.31,144.27 491.25,143.12 C492.19,141.97 493.65,141.15 494.38,141.25 C495.11,141.35 495.93,142.19 495.62,143.75 C495.31,145.31 493.02,149.47 492.50,150.62"/><path class="l" d="M447.5,150.62 L461.25,150.38"/><path class="l" d="M466.25,151.25 L492.5,151.25"/><path class="t" d="M460.62,148.75 L490,148.75"/><path class="l" d="M500,105 C500.21,103.33 501.67,101.88 502.50,101.88 C503.33,101.88 504.69,103.44 505.00,105.00 C505.31,106.56 505.00,110.10 504.38,111.25 C503.75,112.40 501.98,112.92 501.25,111.88 C500.52,110.84 499.79,106.67 500.00,105.00 Z"/><path class="l" d="M503.12,111.88 C502.60,113.44 500.94,117.81 500.00,121.25 C499.06,124.69 498.33,129.38 497.50,132.50 C496.67,135.62 496.04,138.12 495.00,140.00 C493.96,141.88 492.25,142.29 491.25,143.75 C490.25,145.21 489.38,147.92 489.00,148.75"/><path class="t" d="M510,127.5 C509.17,128.33 506.67,130.42 505.00,132.50 C503.33,134.58 501.35,138.12 500.00,140.00 C498.65,141.88 497.88,142.29 496.88,143.75 C495.88,145.21 494.48,147.92 494.00,148.75"/><path class="t" d="M483.75,139.38 C484.79,138.86 487.71,137.40 490.00,136.25 C492.29,135.10 495.00,133.54 497.50,132.50 C500.00,131.46 503.75,130.42 505.00,130.00"/><path class="l" d="M511.25,143.75 C509.58,144.38 511.04,146.25 512.50,146.88 C513.96,147.50 517.08,147.19 520.00,147.50 C522.92,147.81 527.50,148.75 530.00,148.75 C532.50,148.75 534.79,148.23 535.00,147.50 C535.21,146.77 533.33,145.11 531.25,144.38 C529.17,143.65 525.83,143.22 522.50,143.12 C519.17,143.02 512.92,143.12 511.25,143.75 Z"/><path class="l" d="M530,148.75 C530.62,147.71 532.50,144.79 533.75,142.50 C535.00,140.21 536.46,137.08 537.50,135.00 C538.54,132.92 539.58,130.83 540.00,130.00"/><path class="l" d="M535,147.5 C535.62,146.67 537.40,144.79 538.75,142.50 C540.10,140.21 542.18,135.83 543.12,133.75 C544.06,131.67 544.17,130.62 544.38,130.00"/><path class="t" d="M537.5,145 C538.33,144.90 542.08,143.75 542.50,144.38 C542.92,145.00 540.83,147.71 540.00,148.75 C539.17,149.79 537.92,150.31 537.50,150.62"/><path class="t" d="M500,103.75 C500.42,102.92 501.67,98.75 502.50,98.75 C503.33,98.75 504.79,101.67 505.00,103.75 C505.21,105.83 504.58,109.79 503.75,111.25 C502.92,112.71 500.62,112.29 500.00,112.50"/><path class="t" d="M500,125 C501.25,124.69 505.00,123.75 507.50,123.12 C510.00,122.50 512.29,122.19 515.00,121.25 C517.71,120.31 522.29,118.12 523.75,117.50"/><path class="t" d="M500,132.5 C502.08,132.08 508.33,130.83 512.50,130.00 C516.67,129.17 520.42,128.96 525.00,127.50 C529.58,126.04 537.50,122.29 540.00,121.25"/><path class="t" d="M507.5,140 C508.75,139.17 512.08,136.25 515.00,135.00 C517.92,133.75 520.62,133.33 525.00,132.50 C529.38,131.67 536.25,130.62 541.25,130.00 C546.25,129.38 552.71,128.96 555.00,128.75"/></g>
<g id="top"><path class="l" d="M49.75,333.2 C49.79,332.33 49.75,330.53 50.00,328.00 C50.25,325.47 50.62,321.75 51.25,318.00 C51.88,314.25 52.50,309.67 53.75,305.50 C55.00,301.33 56.88,296.54 58.75,293.00 C60.62,289.46 62.50,286.33 65.00,284.25 C67.50,282.17 69.58,281.31 73.75,280.50 C77.92,279.69 82.29,279.55 90.00,279.38 C97.71,279.21 105.00,279.48 120.00,279.50 C135.00,279.52 156.67,279.50 180.00,279.50 C203.33,279.50 242.08,279.48 260.00,279.50 C277.92,279.52 281.88,279.35 287.50,279.62 C293.12,279.89 290.62,280.41 293.75,281.12 C296.88,281.83 302.50,282.48 306.25,283.88 C310.00,285.28 313.54,287.15 316.25,289.50 C318.96,291.85 320.83,294.71 322.50,298.00 C324.17,301.29 325.33,305.08 326.25,309.25 C327.17,313.42 327.67,319.01 328.00,323.00 C328.33,326.99 328.21,331.50 328.25,333.20"/><path class="t" d="M51.88,333.2 C51.94,331.50 51.94,326.16 52.25,323.00 C52.56,319.84 53.08,317.17 53.75,314.25 C54.42,311.33 55.11,308.73 56.25,305.50 C57.39,302.27 58.95,297.96 60.62,294.88 C62.29,291.80 64.23,288.94 66.25,287.00 C68.27,285.06 70.04,284.17 72.75,283.25 C75.46,282.33 80.88,281.79 82.50,281.50"/><path class="l" d="M90,281.12 C95.00,281.12 105.00,281.12 120.00,281.12 C135.00,281.12 156.67,281.12 180.00,281.12 C203.33,281.12 242.08,281.08 260.00,281.12 C277.92,281.16 281.88,281.07 287.50,281.38 C293.12,281.69 290.83,282.19 293.75,283.00 C296.67,283.81 301.67,284.75 305.00,286.25 C308.33,287.75 311.35,289.58 313.75,292.00 C316.15,294.42 317.82,297.42 319.38,300.75 C320.94,304.08 322.25,308.08 323.12,312.00 C323.99,315.92 324.35,320.72 324.62,324.25 C324.89,327.78 324.73,331.71 324.75,333.20"/><path class="t" d="M293.75,281.75 C295.42,282.00 300.62,282.21 303.75,283.25 C306.88,284.29 309.79,285.54 312.50,288.00 C315.21,290.46 318.23,294.46 320.00,298.00 C321.77,301.54 322.60,307.38 323.12,309.25"/><path class="t" d="M303.75,284.88 C305.21,285.82 310.21,288.31 312.50,290.50 C314.79,292.69 316.15,294.88 317.50,298.00 C318.85,301.12 319.89,305.29 320.62,309.25 C321.35,313.21 321.63,317.76 321.88,321.75 C322.13,325.74 322.08,331.29 322.12,333.20"/><path class="l" d="M66.25,283.75 C68.23,282.14 70.00,282.88 72.50,282.75 C75.00,282.62 79.46,282.67 81.25,283.00 C83.04,283.33 83.88,284.12 83.25,284.75 C82.62,285.38 79.92,285.96 77.50,286.75 C75.08,287.54 71.15,287.73 68.75,289.50 C66.35,291.27 64.79,294.88 63.12,297.38 C61.45,299.88 60.06,302.21 58.75,304.50 C57.44,306.79 56.04,310.33 55.25,311.12 C54.46,311.91 53.73,311.02 54.00,309.25 C54.27,307.48 55.78,303.31 56.88,300.50 C57.98,297.69 59.06,295.17 60.62,292.38 C62.18,289.59 64.27,285.36 66.25,283.75 Z"/><path class="l" d="M71.88,289 C70.94,290.25 67.65,293.75 66.25,296.50 C64.85,299.25 64.14,301.92 63.50,305.50 C62.86,309.08 62.59,313.38 62.38,318.00 C62.17,322.62 62.27,330.67 62.25,333.20"/><path class="l" d="M53.75,325.75 C55.62,324.98 61.04,323.00 65.00,321.12 C68.96,319.25 72.29,317.31 77.50,314.50 C82.71,311.69 90.83,307.38 96.25,304.25 C101.67,301.12 106.83,298.04 110.00,295.75 C113.17,293.46 114.38,291.38 115.25,290.50"/><path class="l" d="M56,312 C57.08,310.71 59.96,306.96 62.50,304.25 C65.04,301.54 68.33,297.94 71.25,295.75 C74.17,293.56 76.88,292.37 80.00,291.12 C83.12,289.87 86.67,288.94 90.00,288.25 C93.33,287.56 96.67,287.21 100.00,287.00 C103.33,286.79 107.08,286.58 110.00,287.00 C112.92,287.42 116.25,289.08 117.50,289.50"/><path class="l" d="M83.75,284.25 C86.88,284.19 96.46,283.99 102.50,283.88 C108.54,283.77 117.08,283.52 120.00,283.62 C122.92,283.72 120.00,284.35 120.00,284.50"/><path class="t" d="M82.5,285.75 C84.79,285.83 91.67,286.08 96.25,286.25 C100.83,286.42 106.04,286.50 110.00,286.75 C113.96,287.00 118.33,287.58 120.00,287.75"/><path class="l" d="M115.25,290.5 C114.38,292.21 111.50,297.17 110.00,300.75 C108.50,304.33 107.17,308.08 106.25,312.00 C105.33,315.92 104.83,320.72 104.50,324.25 C104.17,327.78 104.29,331.71 104.25,333.20"/><path class="l" d="M117.75,290.75 C116.83,293.21 113.62,300.96 112.25,305.50 C110.88,310.04 110.08,313.38 109.50,318.00 C108.92,322.62 108.88,330.67 108.75,333.20"/><path class="l" d="M126.25,292.38 C125.31,293.69 122.12,297.23 120.62,300.25 C119.12,303.27 118.04,306.71 117.25,310.50 C116.46,314.29 116.15,319.22 115.88,323.00 C115.61,326.78 115.66,331.50 115.62,333.20"/><path class="t" d="M122.5,291.75 C121.67,293.00 118.96,296.12 117.50,299.25 C116.04,302.38 114.62,306.54 113.75,310.50 C112.88,314.46 112.54,319.22 112.25,323.00 C111.96,326.78 112.04,331.50 112.00,333.20"/><path class="l" d="M120,284.75 C122.00,285.04 128.33,285.88 132.00,286.50 C135.67,287.12 138.67,287.75 142.00,288.50 C145.33,289.25 149.00,290.17 152.00,291.00 C155.00,291.83 157.67,292.67 160.00,293.50 C162.33,294.33 162.67,295.54 166.00,296.00 C169.33,296.46 176.00,296.38 180.00,296.25 C184.00,296.12 188.33,295.42 190.00,295.25"/><path class="t" d="M121.25,287 C123.04,287.29 128.54,288.12 132.00,288.75 C135.46,289.38 138.67,290.04 142.00,290.75 C145.33,291.46 149.00,292.25 152.00,293.00 C155.00,293.75 157.62,294.50 160.00,295.25 C162.38,296.00 165.21,297.12 166.25,297.50"/><path class="l" d="M125.5,293.75 C126.58,293.62 129.25,292.96 132.00,293.00 C134.75,293.04 138.67,293.58 142.00,294.00 C145.33,294.42 148.67,294.88 152.00,295.50 C155.33,296.12 159.62,297.12 162.00,297.75 C164.38,298.38 165.54,299.00 166.25,299.25"/><path class="t" d="M128.75,286.75 L131.25,292.75"/><path class="t" d="M133.75,287.88 L136.25,293.38"/><path class="t" d="M138.75,289 L141.25,294"/><path class="t" d="M143.75,290.12 L146.25,294.62"/><path class="t" d="M148.75,291.25 L151.25,295.25"/><path class="t" d="M153.75,292.38 L156.25,295.88"/><path class="t" d="M158.75,293.5 L161.25,296.5"/><path class="t" d="M131.25,279.88 L136,284.5"/><path class="t" d="M110,283 C112.08,283.04 117.29,282.94 122.50,283.25 C127.71,283.56 135.42,283.57 141.25,284.88 C147.08,286.19 154.79,290.08 157.50,291.12"/><path class="l" d="M146.25,285.75 C146.88,284.67 148.33,281.46 150.00,279.25 C151.67,277.04 154.38,273.54 156.25,272.50 C158.12,271.46 160.94,272.08 161.25,273.00 C161.56,273.92 159.33,276.12 158.12,278.00 C156.91,279.88 154.10,282.06 154.00,284.25 C153.90,286.44 156.92,289.98 157.50,291.12"/><path class="t" d="M147.5,284.25 C148.33,284.14 151.42,283.62 152.50,283.62 C153.58,283.62 153.75,284.14 154.00,284.25"/><path class="t" d="M153.12,275.5 L158.12,275.75"/><ellipse class="l" cx="182" cy="280.3" rx="4" ry="0.9"/><ellipse class="l" cx="254" cy="280.8" rx="5" ry="0.9"/><rect class="l" x="270.6" y="281.2" width="14" height="1.8" rx="0.8"/><path class="l" d="M180,284.88 L260,284.88 L265,284.88"/><path class="t" d="M180,286.75 L260,287"/><path class="t" d="M192.5,279.25 L200,286.75 L210,295.5"/><path class="t" d="M196.25,279.25 L205,286.75 L211.25,294.88"/><path class="t" d="M242.5,288 L246.25,294.88"/><path class="t" d="M245,288 L248.5,294.88"/><path class="t" d="M265.62,279.88 L265,286.75 L260.62,294.88"/><path class="t" d="M267.5,286.75 L262.5,294.88"/><path class="l" d="M265,286.75 C266.67,286.92 271.67,287.54 275.00,287.75 C278.33,287.96 282.08,287.71 285.00,288.00 C287.92,288.29 291.67,288.77 292.50,289.50 C293.33,290.23 291.88,291.55 290.00,292.38 C288.12,293.21 285.83,293.94 281.25,294.50 C276.67,295.06 267.71,295.58 262.50,295.75 C257.29,295.92 252.08,295.54 250.00,295.50"/><path class="l" d="M166.25,296.88 C165.67,297.40 163.58,298.65 162.75,300.00 C161.92,301.35 161.50,302.50 161.25,305.00 C161.00,307.50 160.94,312.50 161.25,315.00 C161.56,317.50 162.29,318.71 163.12,320.00 C163.95,321.29 163.44,321.81 166.25,322.75 C169.06,323.69 176.04,325.45 180.00,325.62 C183.96,325.79 187.50,324.64 190.00,323.75 C192.50,322.86 194.17,320.83 195.00,320.25"/><rect class="l" x="166.3" y="302.3" width="25" height="17.7" rx="5"/><rect class="t" x="164.8" y="300.6" width="28" height="21.2" rx="6"/><path class="l" d="M167.5,297.5 C169.58,297.71 176.25,298.17 180.00,298.75 C183.75,299.33 187.50,300.38 190.00,301.00 C192.50,301.62 192.50,302.25 195.00,302.50 C197.50,302.75 202.50,302.08 205.00,302.50 C207.50,302.92 209.17,304.58 210.00,305.00"/><rect class="t" x="190" y="301" width="5.5" height="19.5" rx="2"/><path class="l" d="M195,302.5 C194.90,303.96 194.38,308.29 194.38,311.25 C194.38,314.21 194.06,318.58 195.00,320.25 C195.94,321.92 198.33,321.50 200.00,321.25 C201.67,321.00 204.17,319.17 205.00,318.75"/><rect class="l" x="202.5" y="305.5" width="8.5" height="13" rx="3.5"/><path class="t" d="M177.5,308.5 L210,308.5"/><path class="t" d="M166.25,311.25 L190,311.25"/><path class="l" d="M214,333.2 C214.00,328.58 213.73,311.37 214.00,305.50 C214.27,299.63 214.41,300.04 215.62,298.00 C216.83,295.96 218.85,294.29 221.25,293.25 C223.65,292.21 227.08,291.48 230.00,291.75 C232.92,292.02 236.25,293.74 238.75,294.88 C241.25,296.02 242.29,297.79 245.00,298.62 C247.71,299.45 252.50,299.52 255.00,299.88 C257.50,300.24 259.17,300.61 260.00,300.75"/><path class="t" d="M216.25,333.2 C216.25,328.58 216.00,311.16 216.25,305.50 C216.50,299.84 216.71,300.96 217.75,299.25 C218.79,297.54 220.46,296.17 222.50,295.25 C224.54,294.33 227.50,293.54 230.00,293.75 C232.50,293.96 236.25,296.04 237.50,296.50"/><rect class="l" x="219.4" y="299.25" width="20.2" height="21.85" rx="6"/><rect class="l" x="244.4" y="300.5" width="10.2" height="19.4" rx="4"/><rect class="l" x="254.4" y="304.25" width="9.35" height="12.5" rx="4"/><path class="t" d="M219.38,309.25 L240,309.25"/><path class="t" d="M230,299.25 L230,320.5"/><rect class="l" x="269.4" y="311.1" width="17.5" height="15" rx="4.5"/><rect class="l" x="266.9" y="306.75" width="33.1" height="22.5" rx="6"/><rect class="l" x="289.4" y="310.5" width="8.6" height="16.25" rx="3.5"/><rect class="l" x="298" y="312.4" width="6.4" height="11.2" rx="1.2"/><path class="t" d="M269.4,318.6 L286.9,318.6"/><path class="t" d="M289.4,318.6 L298,318.6"/><path class="t" d="M250,305.5 C251.25,305.60 255.42,305.29 257.50,306.12 C259.58,306.95 261.77,308.52 262.50,310.50 C263.23,312.48 263.13,316.33 261.88,318.00 C260.63,319.67 256.98,319.88 255.00,320.50 C253.02,321.12 250.83,321.54 250.00,321.75"/><path class="l" d="M296.88,333.2 C296.88,328.58 296.78,311.37 296.88,305.50 C296.98,299.63 296.15,299.75 297.50,298.00 C298.85,296.25 302.50,295.73 305.00,295.00 C307.50,294.27 310.83,293.85 312.50,293.62 C314.17,293.39 314.58,293.62 315.00,293.62"/><path class="l" d="M299.38,333.2 C299.38,329.00 299.24,313.41 299.38,308.00 C299.52,302.59 299.11,302.42 300.25,300.75 C301.39,299.08 304.42,298.56 306.25,298.00 C308.08,297.44 310.11,296.13 311.25,297.38 C312.39,298.63 312.60,302.06 313.12,305.50 C313.64,308.94 314.07,313.38 314.38,318.00 C314.69,322.62 314.90,330.67 315.00,333.20"/><path class="t" d="M312.5,293.62 C313.02,295.60 314.79,301.44 315.62,305.50 C316.45,309.56 317.08,313.38 317.50,318.00 C317.92,322.62 318.02,330.67 318.12,333.20"/><g transform="translate(0,666.4) scale(1,-1)"><path class="l" d="M49.75,333.2 C49.79,332.33 49.75,330.53 50.00,328.00 C50.25,325.47 50.62,321.75 51.25,318.00 C51.88,314.25 52.50,309.67 53.75,305.50 C55.00,301.33 56.88,296.54 58.75,293.00 C60.62,289.46 62.50,286.33 65.00,284.25 C67.50,282.17 69.58,281.31 73.75,280.50 C77.92,279.69 82.29,279.55 90.00,279.38 C97.71,279.21 105.00,279.48 120.00,279.50 C135.00,279.52 156.67,279.50 180.00,279.50 C203.33,279.50 242.08,279.48 260.00,279.50 C277.92,279.52 281.88,279.35 287.50,279.62 C293.12,279.89 290.62,280.41 293.75,281.12 C296.88,281.83 302.50,282.48 306.25,283.88 C310.00,285.28 313.54,287.15 316.25,289.50 C318.96,291.85 320.83,294.71 322.50,298.00 C324.17,301.29 325.33,305.08 326.25,309.25 C327.17,313.42 327.67,319.01 328.00,323.00 C328.33,326.99 328.21,331.50 328.25,333.20"/><path class="t" d="M51.88,333.2 C51.94,331.50 51.94,326.16 52.25,323.00 C52.56,319.84 53.08,317.17 53.75,314.25 C54.42,311.33 55.11,308.73 56.25,305.50 C57.39,302.27 58.95,297.96 60.62,294.88 C62.29,291.80 64.23,288.94 66.25,287.00 C68.27,285.06 70.04,284.17 72.75,283.25 C75.46,282.33 80.88,281.79 82.50,281.50"/><path class="l" d="M90,281.12 C95.00,281.12 105.00,281.12 120.00,281.12 C135.00,281.12 156.67,281.12 180.00,281.12 C203.33,281.12 242.08,281.08 260.00,281.12 C277.92,281.16 281.88,281.07 287.50,281.38 C293.12,281.69 290.83,282.19 293.75,283.00 C296.67,283.81 301.67,284.75 305.00,286.25 C308.33,287.75 311.35,289.58 313.75,292.00 C316.15,294.42 317.82,297.42 319.38,300.75 C320.94,304.08 322.25,308.08 323.12,312.00 C323.99,315.92 324.35,320.72 324.62,324.25 C324.89,327.78 324.73,331.71 324.75,333.20"/><path class="t" d="M293.75,281.75 C295.42,282.00 300.62,282.21 303.75,283.25 C306.88,284.29 309.79,285.54 312.50,288.00 C315.21,290.46 318.23,294.46 320.00,298.00 C321.77,301.54 322.60,307.38 323.12,309.25"/><path class="t" d="M303.75,284.88 C305.21,285.82 310.21,288.31 312.50,290.50 C314.79,292.69 316.15,294.88 317.50,298.00 C318.85,301.12 319.89,305.29 320.62,309.25 C321.35,313.21 321.63,317.76 321.88,321.75 C322.13,325.74 322.08,331.29 322.12,333.20"/><path class="l" d="M66.25,283.75 C68.23,282.14 70.00,282.88 72.50,282.75 C75.00,282.62 79.46,282.67 81.25,283.00 C83.04,283.33 83.88,284.12 83.25,284.75 C82.62,285.38 79.92,285.96 77.50,286.75 C75.08,287.54 71.15,287.73 68.75,289.50 C66.35,291.27 64.79,294.88 63.12,297.38 C61.45,299.88 60.06,302.21 58.75,304.50 C57.44,306.79 56.04,310.33 55.25,311.12 C54.46,311.91 53.73,311.02 54.00,309.25 C54.27,307.48 55.78,303.31 56.88,300.50 C57.98,297.69 59.06,295.17 60.62,292.38 C62.18,289.59 64.27,285.36 66.25,283.75 Z"/><path class="l" d="M71.88,289 C70.94,290.25 67.65,293.75 66.25,296.50 C64.85,299.25 64.14,301.92 63.50,305.50 C62.86,309.08 62.59,313.38 62.38,318.00 C62.17,322.62 62.27,330.67 62.25,333.20"/><path class="l" d="M53.75,325.75 C55.62,324.98 61.04,323.00 65.00,321.12 C68.96,319.25 72.29,317.31 77.50,314.50 C82.71,311.69 90.83,307.38 96.25,304.25 C101.67,301.12 106.83,298.04 110.00,295.75 C113.17,293.46 114.38,291.38 115.25,290.50"/><path class="l" d="M56,312 C57.08,310.71 59.96,306.96 62.50,304.25 C65.04,301.54 68.33,297.94 71.25,295.75 C74.17,293.56 76.88,292.37 80.00,291.12 C83.12,289.87 86.67,288.94 90.00,288.25 C93.33,287.56 96.67,287.21 100.00,287.00 C103.33,286.79 107.08,286.58 110.00,287.00 C112.92,287.42 116.25,289.08 117.50,289.50"/><path class="l" d="M83.75,284.25 C86.88,284.19 96.46,283.99 102.50,283.88 C108.54,283.77 117.08,283.52 120.00,283.62 C122.92,283.72 120.00,284.35 120.00,284.50"/><path class="t" d="M82.5,285.75 C84.79,285.83 91.67,286.08 96.25,286.25 C100.83,286.42 106.04,286.50 110.00,286.75 C113.96,287.00 118.33,287.58 120.00,287.75"/><path class="l" d="M115.25,290.5 C114.38,292.21 111.50,297.17 110.00,300.75 C108.50,304.33 107.17,308.08 106.25,312.00 C105.33,315.92 104.83,320.72 104.50,324.25 C104.17,327.78 104.29,331.71 104.25,333.20"/><path class="l" d="M117.75,290.75 C116.83,293.21 113.62,300.96 112.25,305.50 C110.88,310.04 110.08,313.38 109.50,318.00 C108.92,322.62 108.88,330.67 108.75,333.20"/><path class="l" d="M126.25,292.38 C125.31,293.69 122.12,297.23 120.62,300.25 C119.12,303.27 118.04,306.71 117.25,310.50 C116.46,314.29 116.15,319.22 115.88,323.00 C115.61,326.78 115.66,331.50 115.62,333.20"/><path class="t" d="M122.5,291.75 C121.67,293.00 118.96,296.12 117.50,299.25 C116.04,302.38 114.62,306.54 113.75,310.50 C112.88,314.46 112.54,319.22 112.25,323.00 C111.96,326.78 112.04,331.50 112.00,333.20"/><path class="l" d="M120,284.75 C122.00,285.04 128.33,285.88 132.00,286.50 C135.67,287.12 138.67,287.75 142.00,288.50 C145.33,289.25 149.00,290.17 152.00,291.00 C155.00,291.83 157.67,292.67 160.00,293.50 C162.33,294.33 162.67,295.54 166.00,296.00 C169.33,296.46 176.00,296.38 180.00,296.25 C184.00,296.12 188.33,295.42 190.00,295.25"/><path class="t" d="M121.25,287 C123.04,287.29 128.54,288.12 132.00,288.75 C135.46,289.38 138.67,290.04 142.00,290.75 C145.33,291.46 149.00,292.25 152.00,293.00 C155.00,293.75 157.62,294.50 160.00,295.25 C162.38,296.00 165.21,297.12 166.25,297.50"/><path class="l" d="M125.5,293.75 C126.58,293.62 129.25,292.96 132.00,293.00 C134.75,293.04 138.67,293.58 142.00,294.00 C145.33,294.42 148.67,294.88 152.00,295.50 C155.33,296.12 159.62,297.12 162.00,297.75 C164.38,298.38 165.54,299.00 166.25,299.25"/><path class="t" d="M128.75,286.75 L131.25,292.75"/><path class="t" d="M133.75,287.88 L136.25,293.38"/><path class="t" d="M138.75,289 L141.25,294"/><path class="t" d="M143.75,290.12 L146.25,294.62"/><path class="t" d="M148.75,291.25 L151.25,295.25"/><path class="t" d="M153.75,292.38 L156.25,295.88"/><path class="t" d="M158.75,293.5 L161.25,296.5"/><path class="t" d="M131.25,279.88 L136,284.5"/><path class="t" d="M110,283 C112.08,283.04 117.29,282.94 122.50,283.25 C127.71,283.56 135.42,283.57 141.25,284.88 C147.08,286.19 154.79,290.08 157.50,291.12"/><path class="l" d="M146.25,285.75 C146.88,284.67 148.33,281.46 150.00,279.25 C151.67,277.04 154.38,273.54 156.25,272.50 C158.12,271.46 160.94,272.08 161.25,273.00 C161.56,273.92 159.33,276.12 158.12,278.00 C156.91,279.88 154.10,282.06 154.00,284.25 C153.90,286.44 156.92,289.98 157.50,291.12"/><path class="t" d="M147.5,284.25 C148.33,284.14 151.42,283.62 152.50,283.62 C153.58,283.62 153.75,284.14 154.00,284.25"/><path class="t" d="M153.12,275.5 L158.12,275.75"/><ellipse class="l" cx="182" cy="280.3" rx="4" ry="0.9"/><ellipse class="l" cx="254" cy="280.8" rx="5" ry="0.9"/><rect class="l" x="270.6" y="281.2" width="14" height="1.8" rx="0.8"/><path class="l" d="M180,284.88 L260,284.88 L265,284.88"/><path class="t" d="M180,286.75 L260,287"/><path class="t" d="M192.5,279.25 L200,286.75 L210,295.5"/><path class="t" d="M196.25,279.25 L205,286.75 L211.25,294.88"/><path class="t" d="M242.5,288 L246.25,294.88"/><path class="t" d="M245,288 L248.5,294.88"/><path class="t" d="M265.62,279.88 L265,286.75 L260.62,294.88"/><path class="t" d="M267.5,286.75 L262.5,294.88"/><path class="l" d="M265,286.75 C266.67,286.92 271.67,287.54 275.00,287.75 C278.33,287.96 282.08,287.71 285.00,288.00 C287.92,288.29 291.67,288.77 292.50,289.50 C293.33,290.23 291.88,291.55 290.00,292.38 C288.12,293.21 285.83,293.94 281.25,294.50 C276.67,295.06 267.71,295.58 262.50,295.75 C257.29,295.92 252.08,295.54 250.00,295.50"/><path class="l" d="M166.25,296.88 C165.67,297.40 163.58,298.65 162.75,300.00 C161.92,301.35 161.50,302.50 161.25,305.00 C161.00,307.50 160.94,312.50 161.25,315.00 C161.56,317.50 162.29,318.71 163.12,320.00 C163.95,321.29 163.44,321.81 166.25,322.75 C169.06,323.69 176.04,325.45 180.00,325.62 C183.96,325.79 187.50,324.64 190.00,323.75 C192.50,322.86 194.17,320.83 195.00,320.25"/><rect class="l" x="166.3" y="302.3" width="25" height="17.7" rx="5"/><rect class="t" x="164.8" y="300.6" width="28" height="21.2" rx="6"/><path class="l" d="M167.5,297.5 C169.58,297.71 176.25,298.17 180.00,298.75 C183.75,299.33 187.50,300.38 190.00,301.00 C192.50,301.62 192.50,302.25 195.00,302.50 C197.50,302.75 202.50,302.08 205.00,302.50 C207.50,302.92 209.17,304.58 210.00,305.00"/><rect class="t" x="190" y="301" width="5.5" height="19.5" rx="2"/><path class="l" d="M195,302.5 C194.90,303.96 194.38,308.29 194.38,311.25 C194.38,314.21 194.06,318.58 195.00,320.25 C195.94,321.92 198.33,321.50 200.00,321.25 C201.67,321.00 204.17,319.17 205.00,318.75"/><rect class="l" x="202.5" y="305.5" width="8.5" height="13" rx="3.5"/><path class="t" d="M177.5,308.5 L210,308.5"/><path class="t" d="M166.25,311.25 L190,311.25"/><path class="l" d="M214,333.2 C214.00,328.58 213.73,311.37 214.00,305.50 C214.27,299.63 214.41,300.04 215.62,298.00 C216.83,295.96 218.85,294.29 221.25,293.25 C223.65,292.21 227.08,291.48 230.00,291.75 C232.92,292.02 236.25,293.74 238.75,294.88 C241.25,296.02 242.29,297.79 245.00,298.62 C247.71,299.45 252.50,299.52 255.00,299.88 C257.50,300.24 259.17,300.61 260.00,300.75"/><path class="t" d="M216.25,333.2 C216.25,328.58 216.00,311.16 216.25,305.50 C216.50,299.84 216.71,300.96 217.75,299.25 C218.79,297.54 220.46,296.17 222.50,295.25 C224.54,294.33 227.50,293.54 230.00,293.75 C232.50,293.96 236.25,296.04 237.50,296.50"/><rect class="l" x="219.4" y="299.25" width="20.2" height="21.85" rx="6"/><rect class="l" x="244.4" y="300.5" width="10.2" height="19.4" rx="4"/><rect class="l" x="254.4" y="304.25" width="9.35" height="12.5" rx="4"/><path class="t" d="M219.38,309.25 L240,309.25"/><path class="t" d="M230,299.25 L230,320.5"/><rect class="l" x="269.4" y="311.1" width="17.5" height="15" rx="4.5"/><rect class="l" x="266.9" y="306.75" width="33.1" height="22.5" rx="6"/><rect class="l" x="289.4" y="310.5" width="8.6" height="16.25" rx="3.5"/><rect class="l" x="298" y="312.4" width="6.4" height="11.2" rx="1.2"/><path class="t" d="M269.4,318.6 L286.9,318.6"/><path class="t" d="M289.4,318.6 L298,318.6"/><path class="t" d="M250,305.5 C251.25,305.60 255.42,305.29 257.50,306.12 C259.58,306.95 261.77,308.52 262.50,310.50 C263.23,312.48 263.13,316.33 261.88,318.00 C260.63,319.67 256.98,319.88 255.00,320.50 C253.02,321.12 250.83,321.54 250.00,321.75"/><path class="l" d="M296.88,333.2 C296.88,328.58 296.78,311.37 296.88,305.50 C296.98,299.63 296.15,299.75 297.50,298.00 C298.85,296.25 302.50,295.73 305.00,295.00 C307.50,294.27 310.83,293.85 312.50,293.62 C314.17,293.39 314.58,293.62 315.00,293.62"/><path class="l" d="M299.38,333.2 C299.38,329.00 299.24,313.41 299.38,308.00 C299.52,302.59 299.11,302.42 300.25,300.75 C301.39,299.08 304.42,298.56 306.25,298.00 C308.08,297.44 310.11,296.13 311.25,297.38 C312.39,298.63 312.60,302.06 313.12,305.50 C313.64,308.94 314.07,313.38 314.38,318.00 C314.69,322.62 314.90,330.67 315.00,333.20"/><path class="t" d="M312.5,293.62 C313.02,295.60 314.79,301.44 315.62,305.50 C316.45,309.56 317.08,313.38 317.50,318.00 C317.92,322.62 318.02,330.67 318.12,333.20"/></g><path class="t" d="M162.75,302 L162.75,364"/><path class="l" d="M162.75,320.62 C161.92,321.04 159.00,321.97 157.75,323.12 C156.50,324.27 156.92,326.52 155.25,327.50 C153.58,328.48 149.62,328.17 147.75,329.00 C145.88,329.83 144.04,331.29 144.00,332.50 C143.96,333.71 145.67,335.31 147.50,336.25 C149.33,337.19 153.44,337.08 155.00,338.12 C156.56,339.16 155.63,341.35 156.88,342.50 C158.13,343.65 161.56,344.58 162.50,345.00"/><rect class="l" x="219.4" y="323.6" width="20" height="19.4" rx="5.5"/><rect class="l" x="243.75" y="322.4" width="9.35" height="21.4" rx="1.5"/><rect class="t" x="244.6" y="323.4" width="7.7" height="19.4" rx="1.2"/><path class="l" d="M253.1,327.4 L258.5,327.4 Q263.75,327.8 263.75,333.6 Q263.75,339.5 258.5,339.9 L253.1,339.9"/><circle cx="56.2" cy="333.3" r="2.5" fill="#484848" stroke="#444" stroke-width="0.4"/><path d="M56.2,331.7 L56.2,334.9 M54.6,333.3 L57.8,333.3" stroke="#aaa" stroke-width="0.5" fill="none"/></g>
<g id="rear"><path class="l" d="M462.5,271 L463.12,269.5 L464.38,269.5 L465.25,271"/><path class="l" d="M463.12,270.75 C462.23,271.58 459.48,273.25 457.75,275.75 C456.02,278.25 454.33,282.21 452.75,285.75 C451.17,289.29 449.54,293.88 448.25,297.00 C446.96,300.12 445.54,303.25 445.00,304.50"/><path class="t" d="M465.25,271.38 C464.48,272.21 462.23,273.78 460.62,276.38 C459.01,278.98 457.08,283.36 455.62,287.00 C454.16,290.64 452.82,295.44 451.88,298.25 C450.94,301.06 450.31,302.94 450.00,303.88"/><path class="t" d="M457.75,277 L460.25,276"/><path class="t" d="M456.62,280 L459.12,279"/><path class="t" d="M455.5,283 L458,282"/><path class="t" d="M454.38,286 L456.88,285"/><path class="t" d="M453.25,289 L455.75,288"/><path class="t" d="M452.12,292 L454.62,291"/><path class="t" d="M451,295 L453.5,294"/><path class="t" d="M449.88,298 L452.38,297"/><path class="l" d="M461.25,275.12 C462.08,274.93 462.92,274.27 466.25,274.00 C469.58,273.73 476.12,273.62 481.25,273.50 C486.38,273.38 494.38,273.29 497.00,273.25"/><path class="l" d="M460,277 C461.04,276.83 462.71,276.25 466.25,276.00 C469.79,275.75 476.12,275.62 481.25,275.50 C486.38,275.38 494.38,275.29 497.00,275.25"/><path class="t" d="M460.62,278.88 C461.77,278.77 464.06,278.42 467.50,278.25 C470.94,278.08 476.33,277.96 481.25,277.88 C486.17,277.80 494.38,277.77 497.00,277.75"/><path class="l" d="M460,277 C459.58,278.25 458.33,281.79 457.50,284.50 C456.67,287.21 455.79,290.54 455.00,293.25 C454.21,295.96 453.27,298.98 452.75,300.75 C452.23,302.52 452.02,303.36 451.88,303.88"/><path class="l" d="M497,280.75 C493.33,280.79 480.12,280.89 475.00,281.00 C469.88,281.11 468.29,281.11 466.25,281.38 C464.21,281.65 463.54,281.68 462.75,282.62 C461.96,283.56 461.92,285.02 461.50,287.00 C461.08,288.98 460.50,292.62 460.25,294.50 C460.00,296.38 459.79,297.42 460.00,298.25 C460.21,299.08 459.00,299.25 461.50,299.50 C464.00,299.75 469.08,299.71 475.00,299.75 C480.92,299.79 493.33,299.75 497.00,299.75"/><path class="t" d="M497,282.62 C493.33,282.66 480.02,282.77 475.00,282.88 C469.98,282.99 468.63,282.98 466.88,283.25 C465.13,283.52 465.06,283.67 464.50,284.50 C463.94,285.33 463.88,286.54 463.50,288.25 C463.12,289.96 462.46,293.25 462.25,294.75 C462.04,296.25 462.04,296.71 462.25,297.25 C462.46,297.79 461.38,297.83 463.50,298.00 C465.62,298.17 469.42,298.21 475.00,298.25 C480.58,298.29 493.33,298.25 497.00,298.25"/><path class="l" d="M451.88,302.25 C453.65,302.17 454.98,301.88 462.50,301.75 C470.02,301.62 491.25,301.54 497.00,301.50"/><path class="t" d="M455,305.12 C458.33,305.02 468.75,304.69 475.00,304.50 C481.25,304.31 489.58,304.08 492.50,304.00"/><path class="l" d="M431.25,304.75 C431.25,303.83 431.67,302.54 432.25,301.75 C432.83,300.96 433.04,300.48 434.75,300.00 C436.46,299.52 440.89,298.80 442.50,298.88 C444.11,298.96 444.13,299.36 444.38,300.50 C444.63,301.64 444.42,304.56 444.00,305.75 C443.58,306.94 442.96,307.18 441.88,307.62 C440.80,308.06 439.11,308.44 437.50,308.38 C435.89,308.32 433.29,307.86 432.25,307.25 C431.21,306.64 431.25,305.67 431.25,304.75 Z"/><path class="t" d="M432.5,304.75 C432.54,304.06 432.98,302.88 433.50,302.25 C434.02,301.62 434.22,301.36 435.62,301.00 C437.02,300.64 440.63,300.06 441.88,300.12 C443.13,300.18 442.98,300.55 443.12,301.38 C443.26,302.21 443.10,304.25 442.75,305.12 C442.40,305.99 441.88,306.26 441.00,306.62 C440.12,306.98 438.79,307.29 437.50,307.25 C436.21,307.21 434.08,306.80 433.25,306.38 C432.42,305.96 432.46,305.44 432.50,304.75 Z"/><path class="l" d="M444,304.5 L446.88,305.12"/><path class="h" d="M445,304.5 C445.83,303.73 448.44,304.00 450.00,304.25 C451.56,304.50 453.65,305.29 454.38,306.00 C455.11,306.71 455.11,307.92 454.38,308.50 C453.65,309.08 451.56,309.44 450.00,309.50 C448.44,309.56 445.83,309.71 445.00,308.88 C444.17,308.05 444.17,305.27 445.00,304.50 Z"/><path class="l" d="M454.38,307.62 C455.73,307.93 459.06,308.81 462.50,309.50 C465.94,310.19 472.92,311.38 475.00,311.75"/><path class="l" d="M475,311.75 C474.38,312.42 472.71,314.42 471.25,315.75 C469.79,317.08 467.71,318.71 466.25,319.75 C464.79,320.79 463.12,321.62 462.50,322.00"/><path class="t" d="M472.5,311.75 C471.88,312.42 470.17,314.42 468.75,315.75 C467.33,317.08 464.79,319.08 464.00,319.75"/><path class="l" d="M445,308.88 C444.79,309.61 443.75,311.90 443.75,313.25 C443.75,314.60 443.12,316.27 445.00,317.00 C446.88,317.73 451.88,317.62 455.00,317.62 C458.12,317.62 461.88,316.64 463.75,317.00 C465.62,317.36 465.83,319.29 466.25,319.75"/><path class="t" d="M446.88,310.75 C446.98,311.58 444.90,314.88 447.50,315.75 C450.10,316.62 460.00,315.96 462.50,316.00"/><path class="t" d="M475,311.75 C475.83,311.48 477.92,310.50 480.00,310.12 C482.08,309.75 484.67,309.64 487.50,309.50 C490.33,309.36 495.42,309.29 497.00,309.25"/><path class="l" d="M445,304.5 C444.48,305.33 442.71,307.62 441.88,309.50 C441.05,311.38 440.40,313.67 440.00,315.75 C439.60,317.83 439.67,320.04 439.50,322.00 C439.33,323.96 439.06,323.46 439.00,327.50 C438.94,331.54 439.04,341.46 439.12,346.25 C439.20,351.04 439.39,353.12 439.50,356.25 C439.61,359.38 439.71,363.54 439.75,365.00"/><path class="t" d="M442.5,310.75 C442.71,311.58 443.58,313.88 443.75,315.75 C443.92,317.62 443.71,320.46 443.50,322.00 C443.29,323.54 442.98,323.04 442.50,325.00 C442.02,326.96 440.83,330.62 440.62,333.75 C440.41,336.88 441.14,342.08 441.25,343.75"/><path class="l" d="M466.25,324.75 C468.75,324.71 476.12,324.56 481.25,324.50 C486.38,324.44 494.38,324.40 497.00,324.38"/><path class="l" d="M455.62,315 C455.73,316.04 455.83,319.17 456.25,321.25 C456.67,323.33 457.29,325.83 458.12,327.50 C458.95,329.17 459.89,330.21 461.25,331.25 C462.61,332.29 463.96,333.17 466.25,333.75 C468.54,334.33 469.88,334.58 475.00,334.75 C480.12,334.92 493.33,334.75 497.00,334.75"/><path class="l" d="M449.38,330.62 C450.00,331.04 451.73,332.43 453.12,333.12 C454.51,333.81 455.56,334.27 457.75,334.75 C459.94,335.23 463.38,335.71 466.25,336.00 C469.12,336.29 469.88,336.46 475.00,336.50 C480.12,336.54 493.33,336.29 497.00,336.25"/><path class="t" d="M462.5,318.75 L472.5,315"/><path class="t" d="M465,320.62 L475,316.25"/><path class="l" d="M441.25,342.5 C442.71,342.33 446.88,341.60 450.00,341.50 C453.12,341.40 455.83,341.88 460.00,341.88 C464.17,341.88 468.83,341.61 475.00,341.50 C481.17,341.39 493.33,341.29 497.00,341.25"/><path class="l" d="M445,343.75 C447.29,343.79 453.75,344.04 458.75,344.00 C463.75,343.96 468.62,343.62 475.00,343.50 C481.38,343.38 493.33,343.29 497.00,343.25"/><path class="l" d="M445,344 C444.69,344.79 443.50,347.33 443.12,348.75 C442.75,350.17 442.33,351.29 442.75,352.50 C443.17,353.71 444.10,355.25 445.62,356.00 C447.14,356.75 450.42,357.38 451.88,357.00 C453.34,356.62 453.65,354.92 454.38,353.75 C455.11,352.58 455.42,351.21 456.25,350.00 C457.08,348.79 456.25,347.19 459.38,346.50 C462.50,345.81 468.73,346.03 475.00,345.88 C481.27,345.73 493.33,345.66 497.00,345.62"/><path class="t" d="M443.75,353.12 C444.79,353.33 448.12,354.48 450.00,354.38 C451.88,354.28 454.17,352.81 455.00,352.50"/><path class="t" d="M459.38,347.75 L497,347.5"/><circle class="h" cx="462.5" cy="352.6" r="2.5"/><circle class="h" cx="462.5" cy="352.6" r="1.6"/><path class="h" d="M465.25,353.12 L497,353.12"/><path class="l" d="M454,358.25 L497,358.12"/><path class="t" d="M466.25,359.5 L497,359.38"/><path class="l" d="M454,358.25 L454,362.75 L466.25,362.5 L466.25,358.75"/><circle class="k" cx="478.75" cy="347" r="0.5"/><circle class="k" cx="450" cy="340.6" r="0.5"/><path class="t" d="M439.8,360 L439.8,370.4 Q439.8,372.7 442.1,372.7 L451.7,372.7 Q454,372.7 454,370.4 L454,358.5"/><g transform="translate(994,0) scale(-1,1)"><path class="l" d="M462.5,271 L463.12,269.5 L464.38,269.5 L465.25,271"/><path class="l" d="M463.12,270.75 C462.23,271.58 459.48,273.25 457.75,275.75 C456.02,278.25 454.33,282.21 452.75,285.75 C451.17,289.29 449.54,293.88 448.25,297.00 C446.96,300.12 445.54,303.25 445.00,304.50"/><path class="t" d="M465.25,271.38 C464.48,272.21 462.23,273.78 460.62,276.38 C459.01,278.98 457.08,283.36 455.62,287.00 C454.16,290.64 452.82,295.44 451.88,298.25 C450.94,301.06 450.31,302.94 450.00,303.88"/><path class="t" d="M457.75,277 L460.25,276"/><path class="t" d="M456.62,280 L459.12,279"/><path class="t" d="M455.5,283 L458,282"/><path class="t" d="M454.38,286 L456.88,285"/><path class="t" d="M453.25,289 L455.75,288"/><path class="t" d="M452.12,292 L454.62,291"/><path class="t" d="M451,295 L453.5,294"/><path class="t" d="M449.88,298 L452.38,297"/><path class="l" d="M461.25,275.12 C462.08,274.93 462.92,274.27 466.25,274.00 C469.58,273.73 476.12,273.62 481.25,273.50 C486.38,273.38 494.38,273.29 497.00,273.25"/><path class="l" d="M460,277 C461.04,276.83 462.71,276.25 466.25,276.00 C469.79,275.75 476.12,275.62 481.25,275.50 C486.38,275.38 494.38,275.29 497.00,275.25"/><path class="t" d="M460.62,278.88 C461.77,278.77 464.06,278.42 467.50,278.25 C470.94,278.08 476.33,277.96 481.25,277.88 C486.17,277.80 494.38,277.77 497.00,277.75"/><path class="l" d="M460,277 C459.58,278.25 458.33,281.79 457.50,284.50 C456.67,287.21 455.79,290.54 455.00,293.25 C454.21,295.96 453.27,298.98 452.75,300.75 C452.23,302.52 452.02,303.36 451.88,303.88"/><path class="l" d="M497,280.75 C493.33,280.79 480.12,280.89 475.00,281.00 C469.88,281.11 468.29,281.11 466.25,281.38 C464.21,281.65 463.54,281.68 462.75,282.62 C461.96,283.56 461.92,285.02 461.50,287.00 C461.08,288.98 460.50,292.62 460.25,294.50 C460.00,296.38 459.79,297.42 460.00,298.25 C460.21,299.08 459.00,299.25 461.50,299.50 C464.00,299.75 469.08,299.71 475.00,299.75 C480.92,299.79 493.33,299.75 497.00,299.75"/><path class="t" d="M497,282.62 C493.33,282.66 480.02,282.77 475.00,282.88 C469.98,282.99 468.63,282.98 466.88,283.25 C465.13,283.52 465.06,283.67 464.50,284.50 C463.94,285.33 463.88,286.54 463.50,288.25 C463.12,289.96 462.46,293.25 462.25,294.75 C462.04,296.25 462.04,296.71 462.25,297.25 C462.46,297.79 461.38,297.83 463.50,298.00 C465.62,298.17 469.42,298.21 475.00,298.25 C480.58,298.29 493.33,298.25 497.00,298.25"/><path class="l" d="M451.88,302.25 C453.65,302.17 454.98,301.88 462.50,301.75 C470.02,301.62 491.25,301.54 497.00,301.50"/><path class="t" d="M455,305.12 C458.33,305.02 468.75,304.69 475.00,304.50 C481.25,304.31 489.58,304.08 492.50,304.00"/><path class="l" d="M431.25,304.75 C431.25,303.83 431.67,302.54 432.25,301.75 C432.83,300.96 433.04,300.48 434.75,300.00 C436.46,299.52 440.89,298.80 442.50,298.88 C444.11,298.96 444.13,299.36 444.38,300.50 C444.63,301.64 444.42,304.56 444.00,305.75 C443.58,306.94 442.96,307.18 441.88,307.62 C440.80,308.06 439.11,308.44 437.50,308.38 C435.89,308.32 433.29,307.86 432.25,307.25 C431.21,306.64 431.25,305.67 431.25,304.75 Z"/><path class="t" d="M432.5,304.75 C432.54,304.06 432.98,302.88 433.50,302.25 C434.02,301.62 434.22,301.36 435.62,301.00 C437.02,300.64 440.63,300.06 441.88,300.12 C443.13,300.18 442.98,300.55 443.12,301.38 C443.26,302.21 443.10,304.25 442.75,305.12 C442.40,305.99 441.88,306.26 441.00,306.62 C440.12,306.98 438.79,307.29 437.50,307.25 C436.21,307.21 434.08,306.80 433.25,306.38 C432.42,305.96 432.46,305.44 432.50,304.75 Z"/><path class="l" d="M444,304.5 L446.88,305.12"/><path class="h" d="M445,304.5 C445.83,303.73 448.44,304.00 450.00,304.25 C451.56,304.50 453.65,305.29 454.38,306.00 C455.11,306.71 455.11,307.92 454.38,308.50 C453.65,309.08 451.56,309.44 450.00,309.50 C448.44,309.56 445.83,309.71 445.00,308.88 C444.17,308.05 444.17,305.27 445.00,304.50 Z"/><path class="l" d="M454.38,307.62 C455.73,307.93 459.06,308.81 462.50,309.50 C465.94,310.19 472.92,311.38 475.00,311.75"/><path class="l" d="M475,311.75 C474.38,312.42 472.71,314.42 471.25,315.75 C469.79,317.08 467.71,318.71 466.25,319.75 C464.79,320.79 463.12,321.62 462.50,322.00"/><path class="t" d="M472.5,311.75 C471.88,312.42 470.17,314.42 468.75,315.75 C467.33,317.08 464.79,319.08 464.00,319.75"/><path class="l" d="M445,308.88 C444.79,309.61 443.75,311.90 443.75,313.25 C443.75,314.60 443.12,316.27 445.00,317.00 C446.88,317.73 451.88,317.62 455.00,317.62 C458.12,317.62 461.88,316.64 463.75,317.00 C465.62,317.36 465.83,319.29 466.25,319.75"/><path class="t" d="M446.88,310.75 C446.98,311.58 444.90,314.88 447.50,315.75 C450.10,316.62 460.00,315.96 462.50,316.00"/><path class="t" d="M475,311.75 C475.83,311.48 477.92,310.50 480.00,310.12 C482.08,309.75 484.67,309.64 487.50,309.50 C490.33,309.36 495.42,309.29 497.00,309.25"/><path class="l" d="M445,304.5 C444.48,305.33 442.71,307.62 441.88,309.50 C441.05,311.38 440.40,313.67 440.00,315.75 C439.60,317.83 439.67,320.04 439.50,322.00 C439.33,323.96 439.06,323.46 439.00,327.50 C438.94,331.54 439.04,341.46 439.12,346.25 C439.20,351.04 439.39,353.12 439.50,356.25 C439.61,359.38 439.71,363.54 439.75,365.00"/><path class="t" d="M442.5,310.75 C442.71,311.58 443.58,313.88 443.75,315.75 C443.92,317.62 443.71,320.46 443.50,322.00 C443.29,323.54 442.98,323.04 442.50,325.00 C442.02,326.96 440.83,330.62 440.62,333.75 C440.41,336.88 441.14,342.08 441.25,343.75"/><path class="l" d="M466.25,324.75 C468.75,324.71 476.12,324.56 481.25,324.50 C486.38,324.44 494.38,324.40 497.00,324.38"/><path class="l" d="M455.62,315 C455.73,316.04 455.83,319.17 456.25,321.25 C456.67,323.33 457.29,325.83 458.12,327.50 C458.95,329.17 459.89,330.21 461.25,331.25 C462.61,332.29 463.96,333.17 466.25,333.75 C468.54,334.33 469.88,334.58 475.00,334.75 C480.12,334.92 493.33,334.75 497.00,334.75"/><path class="l" d="M449.38,330.62 C450.00,331.04 451.73,332.43 453.12,333.12 C454.51,333.81 455.56,334.27 457.75,334.75 C459.94,335.23 463.38,335.71 466.25,336.00 C469.12,336.29 469.88,336.46 475.00,336.50 C480.12,336.54 493.33,336.29 497.00,336.25"/><path class="t" d="M462.5,318.75 L472.5,315"/><path class="t" d="M465,320.62 L475,316.25"/><path class="l" d="M441.25,342.5 C442.71,342.33 446.88,341.60 450.00,341.50 C453.12,341.40 455.83,341.88 460.00,341.88 C464.17,341.88 468.83,341.61 475.00,341.50 C481.17,341.39 493.33,341.29 497.00,341.25"/><path class="l" d="M445,343.75 C447.29,343.79 453.75,344.04 458.75,344.00 C463.75,343.96 468.62,343.62 475.00,343.50 C481.38,343.38 493.33,343.29 497.00,343.25"/><path class="l" d="M445,344 C444.69,344.79 443.50,347.33 443.12,348.75 C442.75,350.17 442.33,351.29 442.75,352.50 C443.17,353.71 444.10,355.25 445.62,356.00 C447.14,356.75 450.42,357.38 451.88,357.00 C453.34,356.62 453.65,354.92 454.38,353.75 C455.11,352.58 455.42,351.21 456.25,350.00 C457.08,348.79 456.25,347.19 459.38,346.50 C462.50,345.81 468.73,346.03 475.00,345.88 C481.27,345.73 493.33,345.66 497.00,345.62"/><path class="t" d="M443.75,353.12 C444.79,353.33 448.12,354.48 450.00,354.38 C451.88,354.28 454.17,352.81 455.00,352.50"/><path class="t" d="M459.38,347.75 L497,347.5"/><circle class="h" cx="462.5" cy="352.6" r="2.5"/><circle class="h" cx="462.5" cy="352.6" r="1.6"/><path class="h" d="M465.25,353.12 L497,353.12"/><path class="l" d="M454,358.25 L497,358.12"/><path class="t" d="M466.25,359.5 L497,359.38"/><path class="l" d="M454,358.25 L454,362.75 L466.25,362.5 L466.25,358.75"/><circle class="k" cx="478.75" cy="347" r="0.5"/><circle class="k" cx="450" cy="340.6" r="0.5"/><path class="t" d="M439.8,360 L439.8,370.4 Q439.8,372.7 442.1,372.7 L451.7,372.7 Q454,372.7 454,370.4 L454,358.5"/></g><path class="l" d="M463.2,270.4 Q497,268.8 530.8,270.4"/><path class="l" d="M495.6,270 L496.2,268.9 L497,268.2 L497.8,268.9 L498.4,270"/><circle cx="497" cy="307" r="2.75" fill="#484848" stroke="#444" stroke-width="0.4"/><path d="M497,305.2 L497,308.8 M495.2,307 L498.8,307" stroke="#aaa" stroke-width="0.5" fill="none"/><rect class="l" x="487.4" y="314.4" width="19.2" height="6" rx="2.6"/></g>
<g id="dims"><path class="d" d="M53.75,189.6 L192.5,189.6"/><path class="d" d="M113.5,84.2 L192.5,84.2"/><path class="d" d="M53.75,189.6 L53.75,209"/><path class="d" d="M170.25,189.6 L170.25,209"/><path class="d" d="M62.5,189.6 L62.5,201.3"/><path class="d" d="M162.4,189.6 L162.4,201.3"/><path class="d" d="M62.5,199.8 L104.4,199.8"/><path class="d" d="M119.4,199.8 L162.4,199.8"/><path class="a" d="M62.50,199.80 L66.30,199.05 L66.30,200.55 Z"/><path class="a" d="M162.40,199.80 L158.60,200.55 L158.60,199.05 Z"/><text x="111.9" y="201.65">1561</text><path class="d" d="M53.75,207.25 L104.4,207.25"/><path class="d" d="M119.4,207.25 L170.25,207.25"/><path class="a" d="M53.75,207.25 L57.55,206.50 L57.55,208.00 Z"/><path class="a" d="M170.25,207.25 L166.45,208.00 L166.45,206.50 Z"/><text x="111.9" y="209.1">1800</text><path class="d" d="M185.1,84.2 L185.1,129.3"/><path class="d" d="M185.1,144.3 L185.1,189.6"/><path class="a" d="M185.10,84.20 L185.85,88.00 L184.35,88.00 Z"/><path class="a" d="M185.10,189.60 L184.35,185.80 L185.85,185.80 Z"/><text transform="translate(187,136.8) rotate(-90)" x="0" y="0">1641</text><path class="d" d="M297.5,183.5 L573.3,183.5"/><path class="d" d="M297.5,183.5 L297.5,208.3"/><path class="d" d="M573.3,183.5 L573.3,208.3"/><path class="d" d="M349.2,183.5 L349.2,196.6"/><path class="d" d="M517.5,183.5 L517.5,196.6"/><path class="d" d="M297.5,195.75 L318.8,195.75"/><path class="d" d="M329.8,195.75 L349.2,195.75"/><path class="a" d="M297.50,195.75 L301.30,195.00 L301.30,196.50 Z"/><path class="a" d="M349.20,195.75 L345.40,196.50 L345.40,195.00 Z"/><text x="324.3" y="197.6">848</text><path class="d" d="M349.2,195.75 L425,195.75"/><path class="d" d="M440,195.75 L517.5,195.75"/><path class="a" d="M349.20,195.75 L353.00,195.00 L353.00,196.50 Z"/><path class="a" d="M517.50,195.75 L513.70,196.50 L513.70,195.00 Z"/><text x="432.5" y="197.6">2780</text><path class="d" d="M517.5,195.75 L540,195.75"/><path class="d" d="M551,195.75 L573.3,195.75"/><path class="a" d="M517.50,195.75 L521.30,195.00 L521.30,196.50 Z"/><path class="a" d="M573.30,195.75 L569.50,196.50 L569.50,195.00 Z"/><text x="545.5" y="197.6">928</text><path class="d" d="M297.5,207.3 L425,207.3"/><path class="d" d="M440,207.3 L573.3,207.3"/><path class="a" d="M297.50,207.30 L301.30,206.55 L301.30,208.05 Z"/><path class="a" d="M573.30,207.30 L569.50,208.05 L569.50,206.55 Z"/><text x="432.5" y="209.15">4556</text><path class="d" d="M428.75,373.2 L565.2,373.2"/><path class="d" d="M431.25,373.2 L431.25,392.6"/><path class="d" d="M563.75,373.2 L563.75,392.6"/><path class="d" d="M446.25,373.2 L446.25,383.2"/><path class="d" d="M547.5,373.2 L547.5,383.2"/><path class="d" d="M446.25,382 L489.7,382"/><path class="d" d="M504.7,382 L547.5,382"/><path class="a" d="M446.25,382.00 L450.05,381.25 L450.05,382.75 Z"/><path class="a" d="M547.50,382.00 L543.70,382.75 L543.70,381.25 Z"/><text x="497.2" y="383.85">1562</text><path class="d" d="M431.25,391.1 L489.7,391.1"/><path class="d" d="M504.7,391.1 L563.75,391.1"/><path class="a" d="M431.25,391.10 L435.05,390.35 L435.05,391.85 Z"/><path class="a" d="M563.75,391.10 L559.95,391.85 L559.95,390.35 Z"/><text x="497.2" y="392.95">2038</text><path class="d" d="M188.7,288 L188.7,325.5"/><path class="d" d="M188.7,338.5 L188.7,378.75"/><path class="a" d="M188.70,288.00 L189.45,291.80 L187.95,291.80 Z"/><path class="a" d="M188.70,378.75 L187.95,374.95 L189.45,374.95 Z"/><text transform="translate(190.6,332) rotate(-90)" x="0" y="0">1440</text><path class="d" d="M230.5,288.6 L230.5,326.1"/><path class="d" d="M230.5,339.1 L230.5,377.8"/><path class="a" d="M230.50,288.60 L231.25,292.40 L229.75,292.40 Z"/><path class="a" d="M230.50,377.80 L229.75,374.00 L231.25,374.00 Z"/><text transform="translate(232.4,332.6) rotate(-90)" x="0" y="0">1471</text><path class="d" d="M278.5,290 L278.5,325.7"/><path class="d" d="M278.5,338.7 L278.5,376.9"/><path class="a" d="M278.50,290.00 L279.25,293.80 L277.75,293.80 Z"/><path class="a" d="M278.50,376.90 L277.75,373.10 L279.25,373.10 Z"/><text transform="translate(280.4,332.2) rotate(-90)" x="0" y="0">1190</text><path class="d" d="M443.4,92.5 L438.221,110.747"/><path class="d" d="M434.672,123.253 L428.5,145"/><path class="a" d="M428.50,145.00 L428.82,141.14 L430.26,141.55 Z"/><path class="a" d="M443.40,92.50 L443.08,96.36 L441.64,95.95 Z"/><text transform="translate(436.45,117.00) rotate(-74.2)" x="0" y="1.7">1078</text><path class="d" d="M486.25,91.5 L481.045,110.237"/><path class="d" d="M477.566,122.763 L472.25,141.9"/><path class="a" d="M472.25,141.90 L472.54,138.04 L473.99,138.44 Z"/><path class="a" d="M486.25,91.50 L485.96,95.36 L484.51,94.96 Z"/><text transform="translate(479.31,116.50) rotate(-74.5)" x="0" y="1.7">1003</text><path class="d" d="M530.6,93.75 L525.278,112.686"/><path class="d" d="M522.573,122.314 L516.9,142.5"/><path class="a" d="M516.90,142.50 L517.21,138.64 L518.65,139.04 Z"/><path class="a" d="M530.60,93.75 L530.29,97.61 L528.85,97.21 Z"/><text transform="translate(523.93,117.50) rotate(-74.3)" x="0" y="1.7">900</text></g>
</svg>
</body></html>
